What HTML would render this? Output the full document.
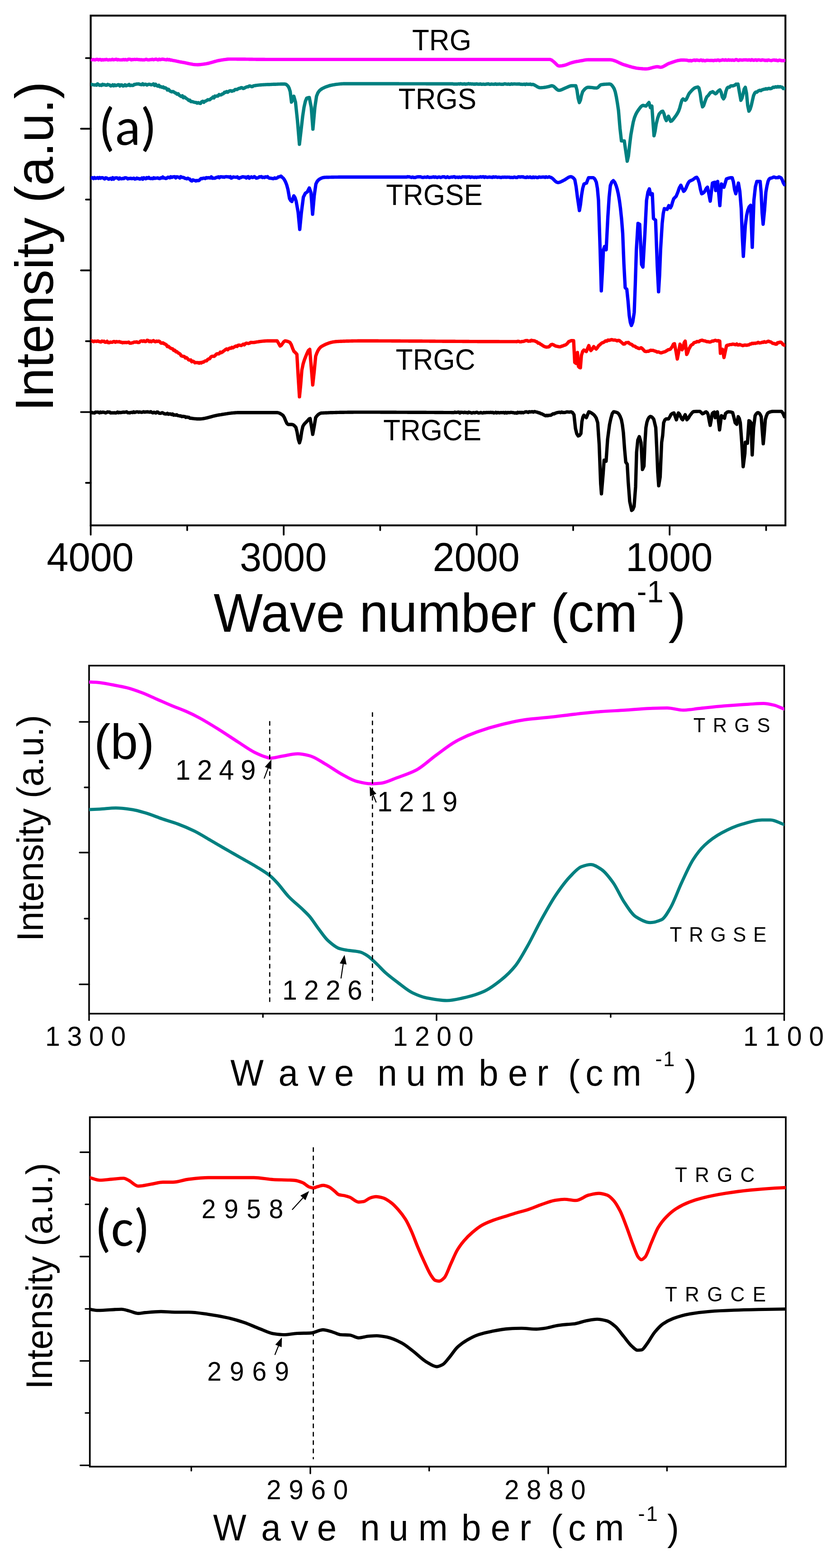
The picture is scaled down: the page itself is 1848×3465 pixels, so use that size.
<!DOCTYPE html><html><head><meta charset="utf-8"><title>FTIR spectra</title><style>html,body{margin:0;padding:0;background:#fff;}body{width:1848px;height:3465px;overflow:hidden;}svg{display:block;}</style></head><body>
<svg width="1848" height="3465" viewBox="0 0 1848 3465">
<rect x="0" y="0" width="1848" height="3465" fill="#fff"/>
<defs><clipPath id="ca"><rect x="200.5" y="34.5" width="1535.7" height="1126.5"/></clipPath><clipPath id="cb"><rect x="196.9" y="1470.9" width="1536.6" height="769.1"/></clipPath><clipPath id="cc"><rect x="198.6" y="2468.8" width="1538.4" height="772.2"/></clipPath></defs>
<rect x="200.5" y="34.5" width="1535.7" height="1126.5" fill="none" stroke="#000" stroke-width="4.2"/>
<g clip-path="url(#ca)">
<path d="M200 132 L202.2 131.5 L204.4 132.1 L206.6 131.7 L208.8 132.2 L211 132.2 L213.2 131.2 L215.4 131.1 L217.6 132.5 L219.8 131.5 L222 131.4 L224.2 132.8 L226.4 131.8 L228.6 132.5 L230.8 131.8 L233 132.1 L235.2 131.2 L237.4 132.1 L239.6 132.5 L241.9 131.9 L244.1 132.2 L246.3 132.1 L248.5 131 L250.7 132.2 L252.9 131.9 L255.1 131.4 L257.3 130.9 L259.5 132.4 L261.7 131.7 L263.9 132.1 L266.1 132.4 L268.3 132.1 L270.5 132.4 L272.7 131.5 L274.9 132.2 L277.1 131.5 L279.3 132.4 L281.5 132.3 L283.7 130.9 L285.9 130.9 L288.1 131.1 L290.3 132.4 L292.5 131.5 L294.7 131.8 L296.9 131.2 L299.1 131.6 L301.3 131.3 L303.5 131.3 L305.7 131.7 L307.9 131.7 L310.1 132.2 L312.3 131.8 L314.5 132.3 L316.7 132.1 L318.9 132.4 L321.1 131.8 L323.4 130.9 L325.6 132.1 L327.8 132.3 L330 132.2 L332.2 131.6 L334.4 131.8 L336.6 130.9 L338.8 132 L341 131.6 L343.2 131 L345.4 130.6 L347.6 132 L349.8 132.3 L352 130.7 L354.2 131.9 L356.4 131.2 L358.6 130.8 L360.8 131 L363 131.4 L365.3 131.9 L367.6 132.2 L369.8 130.9 L372.1 132.2 L374.4 131.4 L376.7 133 L378.9 132.6 L381.2 133.4 L383.5 133.8 L385.8 134.2 L388.1 134.7 L390.3 135.2 L392.6 135.6 L394.9 136.1 L397.2 136.6 L399.4 137 L401.7 137.4 L404 137.8 L406.3 138.2 L408.6 138.6 L410.9 139.1 L413.1 139.6 L415.4 140.1 L417.7 140.6 L420 141 L422.3 141.5 L424.6 141.9 L426.9 142.3 L429.1 142.6 L431.4 142.8 L433.7 142.9 L436 143 L438.2 143 L440.4 142.8 L442.7 142.7 L444.9 142.4 L447.1 142.1 L449.3 141.8 L451.6 141.5 L453.8 141.1 L456 140.8 L458.2 140.4 L460.5 140 L462.7 139.4 L464.9 138.8 L467.2 138.2 L469.4 137.5 L471.6 136.9 L473.8 136.2 L476.1 135.6 L478.3 135 L480.5 134.4 L482.8 133.9 L485 133.5 L487.4 133.1 L489.7 132.7 L492.1 132.3 L494.4 131.9 L496.8 131.6 L499.2 131.3 L501.5 131 L503.9 130.8 L506.2 130.6 L508.6 130.6 L510.8 130.6 L513.1 130.6 L515.3 130.6 L517.5 130.6 L519.7 130.6 L522 130.6 L524.2 130.7 L526.4 130.7 L528.7 130.7 L530.9 130.7 L533.1 130.7 L535.4 130.8 L537.6 130.8 L539.8 130.8 L542 130.8 L544.3 130.9 L546.5 130.9 L548.7 130.9 L551 131 L553.2 131 L555.4 131 L557.6 131 L559.9 131.1 L562.1 131.1 L564.3 131.1 L566.6 131.2 L568.8 131.2 L571 131.2 L573.2 131.2 L575.5 131.3 L577.7 131.3 L579.9 131.3 L582.2 131.3 L584.4 131.3 L586.6 131.4 L588.9 131.4 L591.1 131.4 L593.3 131.4 L595.5 131.4 L597.8 131.4 L600 131.4 L602.2 131.4 L604.4 131.4 L606.7 131.4 L608.9 131.4 L611.1 131.4 L613.3 131.4 L615.6 131.4 L617.8 131.4 L620 131.4 L622.2 131.4 L624.4 131.4 L626.7 131.4 L628.9 131.4 L631.1 131.4 L633.3 131.4 L635.6 131.4 L637.8 131.4 L640 131.4 L642.2 131.4 L644.4 131.4 L646.7 131.4 L648.9 131.4 L651.1 131.4 L653.3 131.4 L655.6 131.4 L657.8 131.4 L660 131.4 L662.2 131.4 L664.4 131.4 L666.7 131.4 L668.9 131.4 L671.1 131.4 L673.3 131.4 L675.6 131.4 L677.8 131.4 L680 131.4 L682.2 131.4 L684.4 131.4 L686.7 131.4 L688.9 131.4 L691.1 131.4 L693.3 131.4 L695.6 131.4 L697.8 131.4 L700 131.4 L702.2 131.4 L704.4 131.4 L706.7 131.4 L708.9 131.4 L711.1 131.4 L713.3 131.4 L715.6 131.4 L717.8 131.4 L720 131.4 L722.2 131.4 L724.4 131.4 L726.7 131.4 L728.9 131.4 L731.1 131.4 L733.3 131.4 L735.6 131.4 L737.8 131.4 L740 131.4 L742.2 131.4 L744.4 131.4 L746.6 131.4 L748.8 131.4 L751 131.4 L753.2 131.4 L755.4 131.4 L757.6 131.4 L759.8 131.4 L762 131.4 L764.2 131.4 L766.4 131.4 L768.6 131.4 L770.9 131.4 L773.1 131.4 L775.3 131.4 L777.5 131.4 L779.7 131.4 L781.9 131.4 L784.1 131.4 L786.3 131.4 L788.5 131.4 L790.7 131.4 L792.9 131.4 L795.1 131.4 L797.3 131.4 L799.5 131.4 L801.7 131.4 L803.9 131.4 L806.1 131.4 L808.3 131.4 L810.5 131.4 L812.7 131.4 L814.9 131.4 L817.1 131.4 L819.3 131.4 L821.5 131.4 L823.7 131.4 L825.9 131.4 L828.1 131.4 L830.4 131.4 L832.6 131.4 L834.8 131.4 L837 131.4 L839.2 131.4 L841.4 131.4 L843.6 131.4 L845.8 131.4 L848 131.4 L850.2 131.4 L852.4 131.4 L854.6 131.4 L856.8 131.4 L859 131.4 L861.2 131.4 L863.4 131.4 L865.6 131.4 L867.8 131.4 L870 131.4 L872.2 131.4 L874.4 131.4 L876.6 131.4 L878.8 131.4 L881 131.4 L883.2 131.4 L885.4 131.4 L887.6 131.4 L889.9 131.4 L892.1 131.4 L894.3 131.4 L896.5 131.4 L898.7 131.4 L900.9 131.4 L903.1 131.4 L905.3 131.4 L907.5 131.4 L909.7 131.4 L911.9 131.4 L914.1 131.4 L916.3 131.4 L918.5 131.4 L920.7 131.4 L922.9 131.4 L925.1 131.4 L927.3 131.4 L929.5 131.4 L931.7 131.4 L933.9 131.4 L936.1 131.4 L938.3 131.4 L940.5 131.4 L942.7 131.4 L944.9 131.4 L947.1 131.4 L949.4 131.4 L951.6 131.4 L953.8 131.4 L956 131.4 L958.2 131.4 L960.4 131.4 L962.6 131.4 L964.8 131.4 L967 131.4 L969.2 131.4 L971.4 131.4 L973.6 131.4 L975.8 131.4 L978 131.4 L980.2 131.4 L982.4 131.4 L984.6 131.4 L986.8 131.4 L989 131.4 L991.2 131.4 L993.4 131.4 L995.6 131.4 L997.8 131.4 L1000 131.4 L1002.2 131.4 L1004.4 131.4 L1006.6 131.4 L1008.9 131.4 L1011.1 131.4 L1013.3 131.4 L1015.5 131.4 L1017.7 131.4 L1019.9 131.4 L1022.1 131.4 L1024.3 131.4 L1026.5 131.4 L1028.7 131.4 L1030.9 131.4 L1033.1 131.4 L1035.3 131.4 L1037.5 131.4 L1039.7 131.4 L1041.9 131.4 L1044.1 131.4 L1046.3 131.4 L1048.5 131.4 L1050.7 131.4 L1052.9 131.4 L1055.1 131.4 L1057.3 131.4 L1059.5 131.4 L1061.7 131.4 L1063.9 131.4 L1066.1 131.4 L1068.4 131.4 L1070.6 131.4 L1072.8 131.4 L1075 131.4 L1077.2 131.4 L1079.4 131.4 L1081.6 131.4 L1083.8 131.4 L1086 131.4 L1088.2 131.4 L1090.4 131.4 L1092.6 131.4 L1094.8 131.4 L1097 131.4 L1099.2 131.4 L1101.4 131.4 L1103.6 131.4 L1105.8 131.4 L1108 131.4 L1110.2 131.4 L1112.4 131.4 L1114.6 131.4 L1116.8 131.4 L1119 131.4 L1121.2 131.4 L1123.4 131.4 L1125.6 131.4 L1127.9 131.4 L1130.1 131.4 L1132.3 131.4 L1134.5 131.4 L1136.7 131.4 L1138.9 131.4 L1141.1 131.4 L1143.3 131.4 L1145.5 131.4 L1147.7 131.4 L1149.9 131.4 L1152.1 131.4 L1154.3 131.4 L1156.5 131.4 L1158.7 131.4 L1160.9 131.4 L1163.1 131.4 L1165.3 131.4 L1167.5 131.4 L1169.7 131.4 L1171.9 131.4 L1174.1 131.4 L1176.3 131.4 L1178.5 131.4 L1180.7 131.4 L1182.9 131.4 L1185.1 131.4 L1187.4 131.4 L1189.6 131.4 L1191.8 131.4 L1194 131.4 L1196.2 131.4 L1198.4 131.4 L1200.6 131.4 L1202.8 131.4 L1205 131.4 L1207.2 131.4 L1209.4 131.4 L1211.6 131.4 L1213.8 131.4 L1216 131.4 L1218.9 132.4 L1221.8 134.6 L1224.7 137 L1227.4 139.5 L1230.2 142.4 L1232.9 144.9 L1235.6 145.9 L1237.8 145.8 L1240 145.6 L1242.2 145.3 L1244.4 144.9 L1246.6 144.5 L1249.1 143.9 L1251.6 143.1 L1254.1 142.1 L1256.5 141.1 L1259 140.1 L1261.5 139.2 L1264 138.4 L1266.4 137.8 L1268.8 137.2 L1271.3 136.7 L1273.7 136.2 L1276.1 135.7 L1278.5 135.3 L1281 134.8 L1283.4 134.4 L1285.8 134 L1288.2 133.6 L1290.5 133.1 L1292.9 132.7 L1295.3 132.3 L1297.6 132.1 L1300 132 L1302.3 132 L1304.6 132 L1306.9 132 L1309.1 132 L1311.4 132 L1313.7 132 L1316 132 L1318.3 132 L1320.6 132 L1322.9 132 L1325.1 132 L1327.4 132 L1329.7 132 L1332 132 L1334.3 132 L1336.6 132 L1338.9 132 L1341.1 132 L1343.4 132 L1345.7 132 L1348 132 L1350.3 132.1 L1352.6 132.5 L1354.9 133 L1357.1 133.7 L1359.4 134.5 L1361.7 135.4 L1364 136.4 L1366.3 137.5 L1368.6 138.6 L1370.9 139.6 L1373.1 140.6 L1375.4 141.6 L1377.7 142.5 L1380 143.2 L1382.3 143.9 L1384.6 144.6 L1386.9 145.3 L1389.1 146 L1391.4 146.7 L1393.7 147.3 L1396 148 L1398.3 148.6 L1400.6 149.2 L1402.9 149.7 L1405.1 150.2 L1407.4 150.6 L1409.7 150.9 L1412 151.2 L1414.3 151.4 L1416.6 151.6 L1418.9 151.8 L1421.1 152 L1423.4 152.1 L1425.7 152.2 L1428 152.2 L1430.3 152.1 L1432.7 151.8 L1435 151.3 L1437.3 150.8 L1439.7 150.1 L1442 149.5 L1444.4 148.8 L1446.7 148.3 L1449 147.8 L1451.4 147.5 L1453.7 147.4 L1456.8 148 L1460 148.7 L1462.4 148.4 L1464.8 147.6 L1467.2 146.5 L1469.7 145.1 L1472.1 143.7 L1474.5 142.3 L1476.9 141 L1479.3 140 L1481.5 139.3 L1483.7 138.5 L1485.9 137.7 L1488.1 136.9 L1490.3 136.2 L1492.5 135.5 L1494.8 134.8 L1497 134.2 L1499.2 133.7 L1501.4 133.3 L1503.6 133 L1505.8 132.8 L1508 132.7 L1510.3 132.7 L1512.5 132.8 L1514.8 132.9 L1517 133 L1519.3 133.1 L1521.6 134 L1523.8 134.4 L1526.1 133.5 L1528.3 134.6 L1530.6 133.6 L1532.8 133.2 L1535 132.7 L1537.3 133.8 L1539.5 132.6 L1541.7 133 L1543.9 133.4 L1546.2 133.8 L1548.4 132.8 L1550.6 132.6 L1552.8 134.2 L1555 133.1 L1557.3 134.4 L1559.5 134.2 L1561.7 133.2 L1563.9 133.3 L1566.2 133.4 L1568.4 133.6 L1570.6 133.5 L1572.8 133.4 L1575 133.5 L1577.3 134.1 L1579.5 133.2 L1581.7 133.1 L1583.9 133.6 L1586.2 132.6 L1588.4 132.7 L1590.6 134 L1592.8 133.1 L1595.1 133.1 L1597.3 132 L1599.5 132.8 L1601.7 133.1 L1603.9 132 L1606.2 133.1 L1608.4 133.1 L1610.6 132 L1612.8 133.1 L1615.1 132.7 L1617.3 133.2 L1619.5 132.5 L1621.7 133.2 L1623.9 133.2 L1626.2 131.8 L1628.4 131.8 L1630.6 133.1 L1632.8 133.6 L1635.1 132.2 L1637.3 132.6 L1639.5 132.7 L1641.8 132.9 L1644 132.3 L1646.2 132.4 L1648.5 132.3 L1650.8 132.5 L1653 132.9 L1655.2 132.3 L1657.5 132.5 L1659.8 133.3 L1662 131.8 L1664.2 132.9 L1666.5 133.3 L1668.8 132.5 L1671 132.3 L1673.2 133.5 L1675.5 132.4 L1677.8 132.3 L1680 132.8 L1682.2 133.4 L1684.5 132.2 L1686.8 132.7 L1689 132.7 L1691.2 133.8 L1693.5 133 L1695.8 133.9 L1698 132.5 L1700.2 132.9 L1702.5 133.5 L1704.8 134 L1707 133.2 L1709.2 132.8 L1711.5 132.6 L1713.8 133.4 L1716 132.8 L1718.2 134 L1720.5 134.1 L1722.8 132.8 L1725 133.1 L1727.2 134.1 L1729.5 133.8 L1731.8 134.2 L1734 133.6" fill="none" stroke="#FF00FF" stroke-width="7.4" stroke-linejoin="round" stroke-linecap="round"/>
<path d="M200 186 L202.2 186.5 L204.5 187.1 L206.7 187.4 L208.9 188 L211.2 187.4 L213.4 188.2 L215.6 185.3 L217.8 186.9 L220.1 188.7 L222.3 187.8 L224.5 188.8 L226.8 186.3 L229 187.6 L231.2 187 L233.5 188.2 L235.7 188.4 L237.9 186.6 L240.2 187.4 L242.4 187.7 L244.6 190 L246.8 189.5 L249.1 187.5 L251.3 189.7 L253.5 187.5 L255.8 189.2 L258 188.8 L260.3 187.5 L262.6 187.1 L264.9 190 L267.1 187.7 L269.4 187.6 L271.7 190.1 L274 189.6 L276.3 187.5 L278.6 189.7 L280.9 188.1 L283.2 188.5 L285.4 186.7 L287.7 189.1 L290 188.1 L292.3 188.9 L294.6 188.6 L296.9 186.5 L299.2 186.6 L301.5 185.8 L303.7 185.7 L306 185.4 L308.3 186.1 L310.6 186.8 L313 187.2 L315.4 185.1 L317.7 187.4 L320.1 186.2 L322.5 186.2 L324.9 187.9 L327.3 186.7 L329.7 186.2 L332 186.7 L334.4 187.5 L336.8 186.8 L339.2 185.4 L341.6 188.8 L343.9 186.1 L346.3 189.2 L348.7 190.3 L351.1 188.3 L353.5 191.9 L355.9 191.4 L358.2 193.1 L360.6 192.1 L363 194.6 L365.4 193.9 L367.7 195.3 L370.1 198.9 L372.5 197.3 L374.8 200.3 L377.2 201.9 L379.5 203 L381.9 202.1 L384.3 203.3 L386.6 205 L389 206 L391.4 208.1 L393.7 207 L396.1 210.4 L398.4 211.8 L400.8 213.2 L403.1 211.7 L405.4 216 L407.8 214.3 L410.1 216.3 L412.5 218 L414.8 219.5 L417.2 221.9 L419.5 221.2 L421.8 224.5 L424.1 224.5 L426.5 224.9 L428.8 225.9 L431.1 226.2 L433.5 226.4 L435.8 228 L438.3 226.7 L440.7 228.1 L443.2 228.6 L445.6 225 L448.1 223.8 L450.5 226.2 L453 223.7 L455.2 223.1 L457.4 221.8 L459.6 220.3 L461.8 220.6 L464 220.3 L466.2 218 L468.5 216.8 L470.7 214.5 L472.9 216.4 L475.1 212.3 L477.3 212.9 L479.5 212 L481.9 212.2 L484.3 208.8 L486.6 209.8 L489 209.6 L491.4 207.6 L493.8 207.1 L496.2 203.9 L498.6 204.2 L500.9 202.3 L503.3 203.9 L505.7 202 L508 200.6 L510.3 200.5 L512.5 201.7 L514.8 200.6 L517.1 200.4 L519.4 198 L521.7 197.6 L523.9 197.8 L526.2 196.4 L528.5 195.2 L530.8 195.1 L533 193.7 L535.3 194 L537.6 195.6 L539.9 195 L542.2 193.4 L544.4 192.5 L546.7 191.6 L549 191.7 L551.2 189.9 L553.5 190.1 L555.7 191.5 L557.9 191.4 L560.2 189.7 L562.4 189.4 L564.6 189 L566.8 188.7 L569.1 188.4 L571.3 188.1 L573.5 187.9 L575.8 187.7 L578 187.5 L580.2 187.4 L582.4 187.2 L584.6 187.1 L586.8 187 L589 186.9 L591.2 186.8 L593.4 186.7 L595.6 186.7 L597.8 186.6 L600 186.5 L602.3 186.4 L604.6 186.3 L606.9 186.3 L609.2 186.2 L611.5 186.1 L613.8 186 L616.1 185.9 L618.4 185.9 L620.7 185.8 L623 185.8 L625.3 185.7 L627.6 185.7 L629.9 185.7 L632.3 186.4 L634.6 188.2 L637 190.8 L639.2 195 L641.5 202.4 L644.4 225.7 L647 219.1 L649.5 212.6 L653.2 225.7 L657.5 266.4 L661.9 318.9 L666.3 281 L669.1 256.7 L672 237.3 L675 224 L677.9 217 L680.8 215.9 L683.7 215.5 L688 237.3 L691.7 285.4 L696 237.3 L699.7 212.6 L702.7 205.2 L705.6 201 L708 198.8 L710.4 197 L712.8 195.5 L715.2 194.3 L717.6 193.2 L720 192.2 L722.5 191.2 L724.9 190.4 L727.4 189.6 L729.8 188.9 L732.2 188.3 L734.7 187.8 L737 187.4 L739.2 187.1 L741.5 186.7 L743.7 186.4 L746 186.1 L748.2 185.9 L750.5 185.6 L752.8 185.4 L755 185.2 L757.3 185.1 L759.5 185 L761.8 185 L764 185 L766.2 185 L768.4 185 L770.6 185 L772.8 185 L775 185 L777.2 185 L779.5 185 L781.7 185 L783.9 185 L786.1 185 L788.3 185 L790.5 185 L792.7 185 L794.9 185 L797.1 185 L799.3 185 L801.5 185 L803.7 185 L805.9 185 L808.1 185 L810.4 185 L812.6 185 L814.8 185 L817 185 L819.2 185 L821.4 185 L823.6 185 L825.8 185 L828 185 L830.2 185 L832.4 185 L834.6 185 L836.8 185 L839 185 L841.2 185 L843.5 185 L845.7 185 L847.9 185 L850.1 185 L852.3 185 L854.5 185 L856.7 185 L858.9 185 L861.1 185 L863.3 185 L865.5 185 L867.7 185 L869.9 185 L872.1 185 L874.4 185 L876.6 185 L878.8 185 L881 185 L883.2 185.1 L885.4 185.1 L887.6 185.1 L889.8 185.1 L892 185.1 L894.2 185.1 L896.4 185.1 L898.6 185.1 L900.8 185.1 L903 185.1 L905.2 185.1 L907.5 185.1 L909.7 185.1 L911.9 185.1 L914.1 185.1 L916.3 185.1 L918.5 185.1 L920.7 185.1 L922.9 185.1 L925.1 185.1 L927.3 185.1 L929.5 185.1 L931.7 185.1 L933.9 185.1 L936.1 185.1 L938.4 185.1 L940.6 185.1 L942.8 185.2 L945 185.2 L947.2 185.2 L949.4 185.2 L951.6 185.2 L953.8 185.2 L956 185.2 L958.2 185.2 L960.4 185.2 L962.6 185.2 L964.8 185.2 L967 185.2 L969.2 185.2 L971.5 185.2 L973.7 185.2 L975.9 185.2 L978.1 185.2 L980.3 185.3 L982.5 185.3 L984.7 185.3 L986.9 185.3 L989.1 185.3 L991.3 185.3 L993.5 185.3 L995.7 185.3 L997.9 185.3 L1000.1 185.1 L1002.4 185.8 L1004.6 185.8 L1006.8 185.7 L1009 185.6 L1011.2 185.8 L1013.4 185.2 L1015.6 185.7 L1017.8 185 L1020 185.4 L1022.2 185.8 L1024.4 185.7 L1026.6 185.1 L1028.8 186.1 L1031 185.7 L1033.3 185.6 L1035.5 184.7 L1037.7 185.6 L1039.9 185.1 L1042.1 185.8 L1044.3 185.4 L1046.5 186 L1048.7 185.8 L1050.9 186 L1053.1 185.3 L1055.3 185.8 L1057.5 186 L1059.7 186.1 L1061.9 185.4 L1064.1 186.2 L1066.4 186.2 L1068.6 185.9 L1070.8 186.4 L1073 186.4 L1075.2 185.7 L1077.4 185.7 L1079.6 185.2 L1081.8 186.3 L1084 186.4 L1086.2 185.7 L1088.4 186.1 L1090.6 186.1 L1092.8 186.2 L1095 185.3 L1097.3 186.3 L1099.5 186 L1101.7 186.1 L1103.9 185.7 L1106.1 186.1 L1108.3 186.3 L1110.5 186.1 L1112.7 186.3 L1114.9 185.2 L1117.1 185.4 L1119.3 185.9 L1121.5 186.2 L1123.7 185.6 L1125.9 186.3 L1128.1 186.3 L1130.4 185.3 L1132.6 186 L1134.8 185.7 L1137 185.4 L1139.2 185.6 L1141.4 185.9 L1143.6 185.7 L1145.8 185.7 L1148 185.5 L1150.2 186.2 L1152.4 186.1 L1154.6 186.5 L1156.8 186.4 L1159 185.9 L1161.3 187 L1163.5 185.6 L1165.7 186.2 L1167.9 186.1 L1170.1 186.3 L1172.3 185.8 L1174.5 187 L1176.7 186.5 L1179.2 186.7 L1181.6 188 L1184.1 189.4 L1186.6 191 L1189.1 192.4 L1191.5 193.5 L1194 193.9 L1196.5 193.8 L1199 193.6 L1201.5 193.4 L1204.1 193 L1206.6 192.6 L1209.1 192.1 L1211.6 191.7 L1214.5 190.9 L1217.4 190 L1220.3 189.5 L1222.8 190.2 L1225.4 192.1 L1227.9 194.5 L1230.5 197 L1233 198.9 L1235.6 199.6 L1237.8 199.4 L1240 198.8 L1242.2 197.9 L1244.4 196.9 L1246.6 195.8 L1248.8 194.8 L1251 193.9 L1253.6 192.9 L1256.2 191.7 L1258.8 190.6 L1261.4 189.8 L1264 189.5 L1266.9 189.5 L1269.9 189.5 L1272.8 189.5 L1275.4 199.1 L1278 217 L1280.6 226.6 L1283.1 221.1 L1285.5 210.3 L1288 202.6 L1290.4 199.5 L1292.8 196.8 L1295.2 194.7 L1297.6 193.4 L1300 192.9 L1302.4 193 L1304.8 193.2 L1307.2 193.4 L1309.6 193.7 L1312 194 L1314.4 194.2 L1316.8 194.4 L1319.2 194.5 L1321.6 193.4 L1324 191 L1326.4 188.4 L1328.8 187.1 L1331.2 186.8 L1333.6 186.5 L1336 186.3 L1338.4 186.1 L1340.8 186 L1343.2 185.9 L1345.6 185.8 L1348 185.8 L1350.4 186.6 L1352.8 188.8 L1355.2 192 L1357.6 196 L1360 202.8 L1362.4 213.9 L1364.8 228 L1367.2 244.1 L1370.5 283.4 L1373.7 311.4 L1376.8 311.4 L1380 311.4 L1383.2 333.8 L1386.5 356.2 L1389.2 344.7 L1391.8 320.3 L1394.5 298.5 L1397.2 283.3 L1399.8 269.9 L1402.5 260 L1405.2 253.3 L1407.8 248.2 L1410.5 244.1 L1412.7 241 L1415 238 L1417.2 235.4 L1419.5 233.6 L1421.7 232.9 L1424.8 233.7 L1428 234.5 L1431.2 230.5 L1434.5 226.5 L1437.7 237.7 L1441 234.5 L1443.3 267.3 L1445.7 300.1 L1448.1 289.8 L1450.5 274.5 L1453.8 260.9 L1457 252.1 L1459.7 248.9 L1462.3 246.6 L1465 245.7 L1467.7 251.1 L1470.3 261.1 L1473 266.5 L1475.3 261.7 L1477.7 256.9 L1480.1 262.5 L1482.5 268.1 L1484.9 267.2 L1487.2 264.8 L1489.6 261.7 L1492 258.5 L1494.7 254.9 L1497.3 250.7 L1500 245.7 L1502.5 238.7 L1504.9 229.6 L1507.3 221.8 L1509.8 218.5 L1512.2 220.1 L1514.6 221.7 L1516.9 219.7 L1519.3 215 L1521.7 209.7 L1524 205.7 L1526.3 203.1 L1528.6 200.5 L1530.9 198.1 L1533.3 196 L1535.6 194.4 L1537.9 193.3 L1540.2 192.9 L1542.6 192.2 L1545 194.5 L1547.7 206.2 L1550.3 224.7 L1553 236.1 L1555.4 233.3 L1557.8 226.1 L1560.2 219.2 L1562.6 213.7 L1565.2 211.5 L1567.7 208.1 L1570.3 204.6 L1572.8 203.9 L1575.4 202.5 L1578.6 205.2 L1581.8 207.3 L1584.2 205.6 L1586.6 202.1 L1589 200.2 L1591.4 198.6 L1594.1 203.9 L1596.7 214.4 L1599.4 218.5 L1602.1 213.8 L1604.7 201.8 L1607.4 194.5 L1610 192.6 L1612.5 192.9 L1615.1 190 L1617.6 189.6 L1620.2 189.7 L1622.4 188.9 L1624.7 188 L1626.9 185.9 L1629.2 186.4 L1631.4 185.8 L1634.6 204.7 L1637.8 221.7 L1640.2 216.9 L1642.7 207.1 L1645.1 196.7 L1647.5 192.9 L1650.2 206.1 L1652.8 233.1 L1655.5 245.7 L1658.1 241.6 L1660.6 233.7 L1663.2 222.2 L1665.7 211.4 L1668.3 205.7 L1670.6 203.5 L1672.9 203.8 L1675.2 201.6 L1677.4 200.4 L1679.7 199.4 L1682 200.4 L1684.3 198.6 L1686.5 198 L1688.8 197.1 L1691 197.1 L1693.3 195.9 L1695.5 196.7 L1697.7 195.9 L1700 195.2 L1702.2 196 L1704.5 195.7 L1706.7 194.5 L1709.3 192.6 L1711.8 193.1 L1714.4 191.6 L1716.9 192.6 L1719.5 191.3 L1721.9 192.2 L1724.3 191.4 L1726.8 192.3 L1729.2 192.9 L1731.6 195.8 L1734 195.4" fill="none" stroke="#008080" stroke-width="7.4" stroke-linejoin="round" stroke-linecap="round"/>
<path d="M200 394 L202.2 393.3 L204.5 392.7 L206.7 394.6 L208.9 392.4 L211.2 394.2 L213.4 393.6 L215.6 392.4 L217.8 394.2 L220.1 392.4 L222.3 393.9 L224.5 392.6 L226.8 392.7 L229 394 L231.2 395.5 L233.5 392.9 L235.7 393.3 L237.9 394.8 L240.2 396 L242.4 394.7 L244.6 394 L246.8 396.2 L249.1 392.7 L251.3 395.8 L253.5 393.7 L255.8 393.1 L258 393 L260.2 393.8 L262.5 395.7 L264.7 393.3 L266.9 394.9 L269.2 395.1 L271.4 394.1 L273.6 394.8 L275.8 392.9 L278.1 392.9 L280.3 393.5 L282.5 395.3 L284.8 394.3 L287 394.6 L289.2 393.9 L291.4 394.9 L293.6 394.4 L295.8 393.8 L298 395.7 L300.2 395.3 L302.5 393.5 L304.7 394.7 L306.9 394.5 L309.1 395.8 L311.3 395.2 L313.5 393.5 L315.7 396 L317.9 392.7 L320.1 393.8 L322.3 395 L324.5 392.6 L326.7 393.9 L328.9 392.1 L331.2 394.4 L333.4 394.7 L335.6 393.9 L337.8 395 L340 392.8 L342.2 394.2 L344.4 393.7 L346.6 393.6 L348.8 393 L351 394.4 L353.2 394.7 L355.4 392.9 L357.6 393.5 L359.8 391.2 L362.1 393.5 L364.3 393.3 L366.5 394.5 L368.7 393.8 L370.9 391.7 L373.1 392 L375.3 393 L377.5 390.5 L379.7 392.1 L381.9 391 L384.1 390.7 L386.3 390.5 L388.5 393.1 L390.8 390.7 L393 391.1 L395.2 391.6 L397.4 393.4 L399.6 390.4 L401.8 391.8 L404 392 L406.2 392.3 L408.5 394 L410.7 394.3 L412.9 395.2 L415.2 393.8 L417.4 395.2 L419.6 395.9 L421.8 398.8 L424.1 399.9 L426.3 397.6 L428.5 398.3 L430.8 398.8 L433 400 L435.3 398.8 L437.6 399.2 L439.9 398.8 L442.2 396.5 L444.5 394.5 L446.8 394.9 L449.1 393.7 L451.4 393.7 L453.7 394.6 L456 392.6 L458.2 393.3 L460.4 392.6 L462.6 393 L464.9 393.2 L467.1 390.8 L469.3 394 L471.5 393.5 L473.7 393.8 L475.9 393.5 L478.1 392 L480.3 392 L482.6 390.8 L484.8 392.8 L487 390.7 L489.2 390.7 L491.4 391.2 L493.6 391 L495.8 391.7 L498 390.6 L500.3 390.4 L502.5 390.9 L504.7 390.7 L506.9 391.7 L509.1 390.4 L511.3 393.7 L513.5 392.7 L515.7 390.9 L518 391.3 L520.2 391.6 L522.4 391.7 L524.6 390.8 L526.8 393.5 L529 394.1 L531.2 392.1 L533.4 392.1 L535.7 390.6 L537.9 390.6 L540.1 391.6 L542.3 391.2 L544.5 393.4 L546.7 390.8 L548.9 390.3 L551.1 393.8 L553.4 392.2 L555.6 390.7 L557.8 392.2 L560 392 L562.2 390.2 L564.5 392 L566.7 393.7 L568.9 393.2 L571.2 392.5 L573.4 390.7 L575.6 391.1 L577.8 390.2 L580.1 392.5 L582.3 391.5 L584.5 392.4 L586.8 390.7 L589 391.3 L591.3 390.3 L593.6 392.8 L595.8 393.9 L598.1 393.8 L600.4 394.2 L602.7 394.7 L604.9 394.7 L607.2 393.1 L609.5 394.2 L612.4 393.3 L615.3 391 L618.2 390.6 L621.1 389.2 L624 392 L626.4 394 L628.9 397.6 L631.3 402.2 L633.8 408.8 L636.4 418.2 L640 438.6 L642.6 443.3 L645.2 445.2 L649.5 432.8 L652 436.5 L654.6 444.4 L659 469.2 L662.6 507 L666.3 469.2 L670.6 435.7 L675 427 L679.4 424 L683.7 415.3 L687.4 425.5 L691 473.5 L694.6 432.8 L698.3 406.6 L700.7 401.6 L703.2 398.4 L705.6 396.4 L707.9 395 L710.2 393.9 L712.6 392.9 L714.9 392.3 L717.2 392 L719.5 391.9 L721.7 391.8 L724 391.8 L726.2 391.7 L728.5 391.6 L730.7 391.6 L733 391.5 L735.2 391.5 L737.5 391.5 L739.7 391.4 L742 391.4 L744.2 391.4 L746.5 391.4 L748.7 391.3 L751 391.3 L753.2 391.3 L755.5 391.3 L757.7 391.3 L760 391.3 L762.2 391.3 L764.4 391.3 L766.6 391.3 L768.8 391.3 L771 391.3 L773.2 391.3 L775.4 391.3 L777.6 391.3 L779.8 391.3 L782 391.3 L784.2 391.3 L786.4 391.3 L788.6 391.3 L790.8 391.3 L793 391.3 L795.2 391.3 L797.4 391.3 L799.7 391.3 L801.9 391.3 L804.1 391.3 L806.3 391.3 L808.5 391.3 L810.7 391.3 L812.9 391.3 L815.1 391.3 L817.3 391.3 L819.5 391.3 L821.7 391.3 L823.9 391.3 L826.1 391.3 L828.3 391.3 L830.5 391.3 L832.7 391.3 L834.9 391.3 L837.1 391.3 L839.3 391.3 L841.5 391.3 L843.7 391.3 L845.9 391.3 L848.1 391.3 L850.3 391.3 L852.5 391.3 L854.7 391.3 L856.9 391.3 L859.1 391.3 L861.3 391.3 L863.5 391.3 L865.7 391.3 L867.9 391.3 L870.1 391.3 L872.3 391.3 L874.6 391.3 L876.8 391.3 L879 391.3 L881.2 391.3 L883.4 391.3 L885.6 391.3 L887.8 391.3 L890 391.3 L892.2 391.3 L894.4 391.3 L896.6 391.3 L898.8 391.3 L901 390.4 L903.2 390.9 L905.4 390.8 L907.6 391.7 L909.8 392.2 L912 391.2 L914.2 392.2 L916.4 392.3 L918.6 392.2 L920.8 391.1 L923 390.8 L925.2 390.8 L927.4 390.7 L929.6 390.7 L931.8 391.6 L934 392.1 L936.2 392 L938.4 391.3 L940.6 391.6 L942.8 391.9 L945 390.5 L947.2 391.7 L949.4 392.2 L951.7 391.9 L953.9 391.8 L956.1 391.3 L958.3 390.7 L960.5 391.9 L962.7 391 L964.9 391.9 L967.1 392.3 L969.3 391.1 L971.5 391.1 L973.7 392.2 L975.9 391.8 L978.1 390.7 L980.3 390.6 L982.5 390.7 L984.7 392.2 L986.9 392 L989.1 390.6 L991.3 392 L993.5 392.3 L995.7 391.7 L997.9 391.1 L1000.1 391.5 L1002.3 390.6 L1004.5 390.4 L1006.7 392.3 L1008.9 391.7 L1011.1 391.4 L1013.3 392.2 L1015.5 391.2 L1017.7 392.1 L1019.9 392 L1022.1 390.8 L1024.3 390.9 L1026.6 391 L1028.8 390.9 L1031 391.6 L1033.2 390.9 L1035.4 391.2 L1037.6 390.7 L1039.8 392.2 L1042 391.1 L1044.2 391.3 L1046.4 391.6 L1048.6 392.2 L1050.8 391.3 L1053 392.2 L1055.2 391.4 L1057.4 391.5 L1059.6 391.5 L1061.8 390.5 L1064 391.3 L1066.2 390.8 L1068.4 390.4 L1070.6 392 L1072.8 390.8 L1075 391.4 L1077.2 391.9 L1079.4 391.6 L1081.6 391.1 L1083.8 391.5 L1086 391.6 L1088.2 392 L1090.4 390.7 L1092.6 391.6 L1094.8 391 L1097 391 L1099.2 392 L1101.4 391.5 L1103.7 391.6 L1105.9 392 L1108.1 392.3 L1110.3 391.4 L1112.5 391.7 L1114.7 391.5 L1116.9 391.5 L1119.1 391.9 L1121.3 391.4 L1123.5 391.6 L1125.7 391.5 L1127.9 392.4 L1130.1 391.9 L1132.3 392.3 L1134.5 392.4 L1136.7 391.1 L1138.9 391.7 L1141.1 392.4 L1143.3 392.2 L1145.5 390.8 L1147.7 390.8 L1149.9 391.4 L1152.1 390.7 L1154.3 391 L1156.5 390.7 L1158.7 391.9 L1160.9 392.1 L1163.1 392.4 L1165.3 390.9 L1167.5 392 L1169.7 391.9 L1171.9 390.9 L1174.1 392.4 L1176.3 392.5 L1178.6 391.1 L1180.8 392.5 L1183 391.4 L1185.2 391.6 L1187.4 392.6 L1189.6 392.3 L1191.8 391 L1194 391.5 L1196.2 391.7 L1198.4 391.3 L1200.6 391.1 L1202.8 391.3 L1205 392.1 L1207.2 390.7 L1209.4 391.8 L1211.6 391.6 L1213.8 390.7 L1216 391.7 L1218.5 392.4 L1221 394 L1223.5 396.4 L1225.9 398.9 L1228.4 401.2 L1230.9 402.8 L1233.4 403.5 L1236 403.1 L1238.7 402.2 L1241.3 401 L1244 399.6 L1246.6 398.3 L1249.1 396.9 L1251.7 395.2 L1254.2 393.5 L1256.7 391.9 L1259.3 390.8 L1261.8 390.4 L1264.7 391.2 L1267.7 393.4 L1270.6 397 L1273.5 412.4 L1276.4 435.5 L1280.8 465.3 L1283.2 451.9 L1285.5 431.9 L1288.2 415.7 L1291 406.4 L1293.7 405.5 L1296.4 404.6 L1298.8 398.2 L1301.1 392.6 L1303.6 392.6 L1306 392.6 L1308.5 392.6 L1311 392.6 L1313.4 393.9 L1315.8 397.4 L1318.2 402.8 L1320.6 416.3 L1323 442.8 L1326.6 552 L1329.2 642.9 L1331.6 600.2 L1333.9 552 L1336.4 544.7 L1340 552 L1343.7 479.2 L1346.5 436 L1349.2 410 L1352.5 402.1 L1355.7 399.1 L1358.8 402.6 L1361.9 410 L1364.3 417.9 L1366.8 428.9 L1369.2 442.8 L1371.6 460.8 L1374.1 485 L1376.5 515.6 L1379.2 583.9 L1382 635.6 L1385.6 639.3 L1388.3 665.3 L1391 697.5 L1393.3 712.2 L1395.7 719.3 L1398.8 711.3 L1402 690.2 L1404.3 628.4 L1406.7 552 L1410.3 493.7 L1414 495.5 L1418.3 584.7 L1421.2 590.2 L1425.6 515.6 L1429.2 442.8 L1432.3 424.4 L1435.4 417.3 L1438.3 430 L1442 428.2 L1444.5 482.8 L1446.8 484.7 L1449.2 486.5 L1452.9 588.3 L1455.8 644.7 L1458 608.4 L1460.2 552 L1463.8 493.7 L1466.2 471.5 L1468.5 461 L1471.6 461.9 L1474.7 462.8 L1478.4 454.4 L1482 459.2 L1484.4 454.8 L1486.9 445.9 L1489.3 439.1 L1492 436.4 L1494.7 433.7 L1498.4 424.6 L1501.7 415 L1505 409.3 L1508 416.1 L1511.1 422.8 L1513.6 420.8 L1516.2 416 L1518.7 409.9 L1521.3 404.4 L1523.8 400.9 L1526.2 399.5 L1528.7 398.4 L1531.1 397.3 L1533.4 395.7 L1535.7 393.9 L1537.9 392.4 L1540.2 391.8 L1543 396.1 L1545.7 404.6 L1548.4 418.5 L1551.1 428.2 L1553.8 427 L1556.6 424.6 L1559 420.8 L1561.5 416 L1563.9 413.7 L1567 429.1 L1570 444.6 L1572.4 425 L1574.8 404.6 L1577.5 403.3 L1580.2 402.8 L1582 421 L1584.2 410.9 L1586.4 400.9 L1588.8 427.7 L1591.2 454.4 L1594.8 406.4 L1597.5 410 L1600.3 413.7 L1603 404.9 L1605.7 395.5 L1608.3 394.4 L1610.8 393.6 L1613.4 393 L1615.9 392.7 L1618.5 392.6 L1621.2 401.8 L1623.8 419 L1626.5 428.2 L1629.4 416.4 L1632.3 404.6 L1635.4 422.6 L1638.5 461 L1640.8 521.5 L1643.2 566.5 L1647.6 497.4 L1650.3 476.9 L1653 464.6 L1656.1 457 L1659.2 453.7 L1662.9 546.5 L1666.5 442.8 L1669.8 412.7 L1673 400.9 L1675.4 400.9 L1677.9 400.9 L1680.3 400.9 L1682.5 425.4 L1684.7 471 L1686.9 495.5 L1690 464.6 L1693 424.6 L1695.4 410.9 L1697.9 400.4 L1700.3 395.5 L1702.8 393.8 L1705.4 393.4 L1707.9 392.4 L1710.5 391.1 L1713 391.8 L1715.2 392.8 L1717.4 392.4 L1719.6 392.7 L1721.8 391 L1724 391.8 L1726.5 393.1 L1729 397 L1731.5 403.9 L1734 408.2" fill="none" stroke="#0000FF" stroke-width="7.4" stroke-linejoin="round" stroke-linecap="round"/>
<path d="M200 753.3 L202.3 753.3 L204.6 753.8 L206.9 755.1 L209.2 753.8 L211.5 754.1 L213.8 754.5 L216.1 753.4 L218.4 754.6 L220.7 755.1 L223 755.8 L225.3 753.7 L227.6 754.5 L229.9 754 L232.2 756.4 L234.5 756.2 L236.8 754.2 L239.1 757.3 L241.4 757.3 L243.7 755.9 L246 756.4 L248.2 756.4 L250.5 755 L252.8 754.6 L255 756.3 L257.3 754.8 L259.5 755.3 L261.8 755.5 L264.1 754.9 L266.3 756.3 L268.6 756.2 L270.9 757.6 L273.1 756.6 L275.4 757 L277.6 756.6 L279.9 757.1 L282.2 756.5 L284.4 756 L286.7 758.3 L289 758.3 L291.2 757.8 L293.5 757.4 L295.7 756.2 L298 755.9 L300.3 756.1 L302.5 755.4 L304.8 756.8 L307.7 756.7 L310.6 753.9 L313.5 753.3 L315.8 754.4 L318.2 753 L320.5 754.8 L322.8 754.5 L325.2 751.9 L327.5 752.6 L329.8 754.9 L332.2 753.6 L334.5 755.3 L336.8 753.6 L339.2 752.6 L341.5 754.6 L343.8 755.2 L346.2 753.7 L348.5 754.6 L350.9 753.6 L353.3 755 L355.6 758 L358 758.4 L360.4 757.6 L362.8 759.5 L365.2 760.5 L367.6 761.9 L369.9 765.8 L372.3 765.3 L374.7 767.7 L377 769.3 L379.4 770.3 L381.7 771 L384.1 774.3 L386.4 774 L388.8 777.3 L391.1 777.2 L393.5 779.8 L395.8 780.7 L398.2 782.4 L400.5 786.1 L402.9 787 L405.2 787.3 L407.5 787.9 L409.9 791.1 L412.2 790.3 L414.5 792.3 L416.9 795.1 L419.2 795.8 L421.5 795.3 L423.9 799.4 L426.2 798.1 L428.5 799.2 L430.9 801.7 L433.2 801 L435.5 801.5 L437.9 801.1 L440.2 802.6 L442.5 801.1 L444.9 802.2 L447.2 800.3 L449.6 800.4 L451.9 798.5 L454.3 797.4 L456.6 797.5 L459 794.5 L461.3 793.2 L463.7 792.6 L466 788.9 L468.4 787.4 L470.7 787.3 L473 787.5 L475.4 786 L477.7 783 L480 781.6 L482.4 782.1 L484.7 781.6 L487 778 L489.4 779.2 L491.7 777.9 L494 775.9 L496.4 774.2 L498.7 772.2 L501 771 L503.4 773 L505.7 770.7 L508 769.1 L510.3 769.8 L512.6 767.6 L514.9 768.7 L517.2 767.2 L519.5 765.6 L521.8 764.5 L524.1 765.6 L526.4 762.9 L528.6 762.7 L530.9 763.2 L533.2 763.6 L535.5 762.2 L537.8 760.6 L540.1 762.1 L542.4 759.4 L544.7 758.3 L547 758.7 L549.3 759 L551.6 758.4 L553.9 756.8 L556.2 756.7 L558.5 756.9 L560.8 756.9 L563.1 756.5 L565.4 756.1 L567.7 755.7 L570 755.4 L572.3 755 L574.6 754.7 L576.9 754.4 L579.2 754.1 L581.5 753.9 L583.8 753.7 L586.1 753.5 L588.4 753.4 L590.7 753.3 L593 753.3 L595.5 753.3 L597.9 753.3 L600.4 753.3 L602.9 753.3 L605.3 753.3 L607.8 753.3 L610.2 753.3 L612.7 753.3 L616 759 L619.2 764.6 L621.9 762.8 L624.7 758.9 L627.4 755.1 L630.1 753.3 L632.8 753.6 L635.5 754.3 L638.3 755.4 L641 756.8 L643.9 761.7 L646.9 769.9 L649.8 776.4 L653 779.2 L656.3 783 L659.1 831.3 L662 876.9 L664.6 851 L667.2 817.9 L670.1 804.2 L673.1 794.6 L676 787.3 L678.9 780.3 L681.8 774.5 L684.7 772 L688 811.4 L691.3 850.7 L694.5 821.5 L697.8 787.3 L700.4 780.1 L703 774.5 L705.7 770.4 L708.3 767.5 L710.9 765.5 L713.2 764.2 L715.6 762.9 L717.9 761.8 L720.2 760.7 L722.6 759.8 L724.9 758.9 L727.2 758.1 L729.6 757.3 L731.9 756.7 L734.2 756.2 L736.6 755.7 L738.9 755.3 L741.2 755 L743.6 754.8 L745.9 754.6 L748.2 754.5 L750.4 754.4 L752.7 754.3 L754.9 754.2 L757.2 754.1 L759.4 754 L761.7 754 L763.9 753.9 L766.2 753.8 L768.4 753.7 L770.7 753.7 L773 753.6 L775.2 753.6 L777.5 753.5 L779.7 753.5 L782 753.4 L784.2 753.4 L786.5 753.4 L788.7 753.4 L791 753.3 L793.2 753.3 L795.5 753.3 L797.7 753.3 L800 753.3 L802.2 753.3 L804.4 753.3 L806.6 753.3 L808.8 753.3 L811 753.3 L813.2 753.3 L815.5 753.3 L817.7 753.3 L819.9 753.3 L822.1 753.3 L824.3 753.3 L826.5 753.3 L828.7 753.3 L830.9 753.3 L833.1 753.3 L835.3 753.3 L837.5 753.4 L839.7 753.4 L841.9 753.4 L844.2 753.4 L846.4 753.4 L848.6 753.4 L850.8 753.4 L853 753.4 L855.2 753.4 L857.4 753.4 L859.6 753.4 L861.8 753.4 L864 753.4 L866.2 753.5 L868.4 753.5 L870.6 753.5 L872.9 753.5 L875.1 753.5 L877.3 753.5 L879.5 753.5 L881.7 753.5 L883.9 753.5 L886.1 753.6 L888.3 753.6 L890.5 753.6 L892.7 753.6 L894.9 753.6 L897.1 753.6 L899.4 753.6 L901.6 753.6 L903.8 753.7 L906 753.7 L908.2 753.7 L910.4 753.7 L912.6 753.7 L914.8 753.7 L917 753.7 L919.2 753.8 L921.4 753.8 L923.6 753.8 L925.8 753.8 L928.1 753.8 L930.3 753.8 L932.5 753.8 L934.7 753.9 L936.9 753.9 L939.1 753.9 L941.3 753.9 L943.5 753.9 L945.7 753.9 L947.9 753.9 L950.1 754 L952.3 754 L954.5 754 L956.8 754 L959 754 L961.2 754 L963.4 754.1 L965.6 754.1 L967.8 754.1 L970 754.1 L972.2 754.1 L974.4 754.1 L976.6 754.1 L978.8 754.2 L981 754.2 L983.2 754.2 L985.5 754.2 L987.7 754.2 L989.9 754.2 L992.1 754.3 L994.3 754.3 L996.5 754.3 L998.7 754.3 L1000.9 754.3 L1003.1 754.3 L1005.3 754.3 L1007.5 754.4 L1009.7 754.4 L1011.9 754.4 L1014.2 754.4 L1016.4 754.4 L1018.6 754.4 L1020.8 754.4 L1023 754.5 L1025.2 754.5 L1027.4 754.5 L1029.6 754.5 L1031.8 754.5 L1034 754.5 L1036.2 754.5 L1038.4 754.6 L1040.6 754.6 L1042.9 754.6 L1045.1 754.6 L1047.3 754.6 L1049.5 754.6 L1051.7 754.6 L1053.9 754.6 L1056.1 754.7 L1058.3 754.7 L1060.5 754.7 L1062.7 754.7 L1064.9 754.7 L1067.1 754.7 L1069.4 754.7 L1071.6 754.7 L1073.8 754.7 L1076 754.8 L1078.2 754.8 L1080.4 754.8 L1082.6 754.8 L1084.8 754.8 L1087 754.8 L1089.2 754.8 L1091.4 754.8 L1093.6 754.8 L1095.8 754.8 L1098.1 754.8 L1100.3 754.8 L1102.5 754.8 L1104.7 754.9 L1106.9 754.9 L1109.1 754.9 L1111.3 754.9 L1113.5 754.9 L1115.7 754.9 L1117.9 754.9 L1120.1 754.9 L1122.3 754.9 L1124.5 754.9 L1126.8 754.9 L1129 754.9 L1131.2 754.9 L1133.4 754.9 L1135.6 754.9 L1137.8 754.9 L1140 754.9 L1142.3 755 L1144.6 754.1 L1146.9 754.5 L1149.2 755.4 L1151.6 755.4 L1153.9 754.6 L1156.2 754.5 L1158.5 754.1 L1160.8 753 L1163.1 752.6 L1165.4 752.4 L1167.7 754.1 L1170.1 753.5 L1172.4 753.9 L1174.7 751.9 L1177 753.1 L1179.3 752.8 L1181.8 753.2 L1184.4 754.7 L1186.9 755.4 L1189.5 758.4 L1192 758.2 L1194.6 760.4 L1197.1 761.8 L1199.7 763.6 L1202.2 765.3 L1204.8 766.2 L1207.4 767 L1209.9 766.9 L1212.6 766.6 L1215.3 764.8 L1218.1 761.6 L1220.8 761 L1223.4 761.9 L1226 763.5 L1228.7 764.9 L1231.3 765.2 L1233.9 765.9 L1236.5 766.4 L1239 766.2 L1241.6 765 L1244.1 764.5 L1246.7 763.2 L1249.2 762.6 L1251.8 761.2 L1254.4 758.7 L1257.1 755 L1259.7 754 L1262.3 752.8 L1265.2 752.8 L1268 753 L1270.5 800.8 L1273.2 803 L1276.5 779 L1278.6 809.5 L1280.8 812 L1283 812.8 L1285.2 785.5 L1288 776.7 L1290.7 773.5 L1293.4 775.2 L1296.1 776.8 L1298.8 770.2 L1301.6 763.7 L1303.8 770.3 L1306 774.6 L1309.2 771.2 L1312.5 765.9 L1315.2 769.1 L1318 771.3 L1320.7 767.9 L1323.4 763.7 L1326 761.9 L1328.6 759.4 L1331.3 757.3 L1333.9 756.8 L1336.5 754.9 L1339 753.1 L1341.5 753.9 L1344 751.4 L1346.5 752.1 L1349 751.4 L1351.5 750.5 L1354 751 L1356.5 751.6 L1359 751.3 L1361.5 752 L1363.9 753.2 L1366.4 752.3 L1368.9 752.5 L1371.4 754.5 L1374.7 757.3 L1378 760.4 L1380.9 760 L1383.8 757.2 L1386.7 757.1 L1389.2 756.7 L1391.8 759.5 L1394.3 760.4 L1396.9 761.5 L1399.5 764.3 L1402 764.8 L1404.2 765.6 L1406.4 767.9 L1408.6 768.1 L1410.8 769.6 L1413 770.2 L1417.3 768.5 L1420 770.5 L1422.8 773.6 L1425.5 776.4 L1428.2 776.8 L1430.8 776.3 L1433.3 776.3 L1435.8 775.1 L1438.4 774 L1441 774.4 L1443.5 774.2 L1445.8 775.2 L1448 775.9 L1450.3 776.5 L1452.5 778.1 L1454.8 777.5 L1457.1 778.1 L1459.3 779.4 L1461.6 779.8 L1463.8 779 L1466.1 778.2 L1468.3 777.6 L1470.6 777 L1472.8 775.4 L1475.1 774.2 L1477.4 772.6 L1479.7 772.6 L1481.9 771.4 L1484.2 768.5 L1486.4 765.2 L1488.7 760.4 L1490.9 759.5 L1494.3 776.4 L1497.2 793.3 L1500 778.7 L1503.3 760.6 L1505.5 765.7 L1507.8 773 L1510.1 768.9 L1512.3 757.7 L1514.6 753.8 L1518 783.2 L1520.2 779.1 L1522.5 771.9 L1524.8 767.9 L1527 763.7 L1529.3 761.7 L1531.5 760.8 L1533.8 757.5 L1536 756.6 L1538.3 756.4 L1540.5 754.6 L1542.8 755 L1545.1 755.1 L1547.3 753.1 L1549.6 752.3 L1551.8 751.7 L1554.1 752.7 L1556.4 753.2 L1558.6 753.4 L1560.9 754.5 L1563.1 755.1 L1565.4 755 L1567.7 755.7 L1569.9 755.9 L1572.2 754.9 L1574.4 753.5 L1576.7 753.8 L1579 752.7 L1581.2 752 L1583.5 752.9 L1585.7 753.3 L1588 752.7 L1591 753.8 L1592.5 780.9 L1594.8 775.6 L1597 771.9 L1600.4 790 L1603.2 776.8 L1606 764 L1608.3 762.6 L1610.5 762.7 L1612.8 761.6 L1615 761.4 L1617.3 761.4 L1619.5 760.4 L1621.8 760.6 L1624 761.4 L1626.3 761.8 L1628.5 760.1 L1630.8 762.4 L1633 762.3 L1635.3 761.2 L1637.5 762.3 L1639.8 763 L1642 763.8 L1644.3 762.9 L1646.6 762.5 L1648.8 762.7 L1651.1 763 L1653.3 762.3 L1655.6 762.1 L1657.9 760.3 L1660.1 760.2 L1662.4 758.6 L1664.6 759.3 L1666.9 758.4 L1669.2 758.9 L1671.4 758.1 L1673.7 758 L1675.9 756.5 L1678.2 757.8 L1680.5 757.7 L1682.7 757.4 L1685 756.1 L1687.2 756.5 L1689.5 755.1 L1691.8 756.3 L1694 756.1 L1696.3 754.7 L1698.5 754 L1700.8 755 L1703 755.3 L1705.3 756.6 L1707.5 758.4 L1709.8 759.1 L1712 759.1 L1714.3 760.6 L1716.5 760.6 L1718.8 757.3 L1721 757.5 L1723.3 756.1 L1726 756.1 L1728.7 758.3 L1731.3 761.6 L1734 762.9" fill="none" stroke="#FF0000" stroke-width="7.4" stroke-linejoin="round" stroke-linecap="round"/>
<path d="M200 911.8 L202.2 911.1 L204.4 912.3 L206.7 912.3 L208.9 912.7 L211.1 910.8 L213.3 910.9 L215.5 910.7 L217.8 910.9 L220 912.3 L222.2 910.6 L224.4 911.7 L226.6 910.8 L228.9 911 L231.1 911.4 L233.3 912.5 L235.5 911.8 L237.7 910.1 L240 910.8 L242.2 910.5 L244.4 912.5 L246.6 912.3 L248.8 912.2 L251.1 912.3 L253.3 912 L255.5 912.6 L257.7 912.1 L259.9 910.6 L262.2 912.2 L264.4 911.2 L266.6 911.9 L268.8 911.4 L271.1 911 L273.3 910.8 L275.5 911 L277.7 910.6 L279.9 910 L282.2 912 L284.4 911.9 L286.6 912.4 L288.8 911.6 L291 911.2 L293.3 911.7 L295.5 910 L297.7 911.5 L299.9 910.8 L302.1 910.1 L304.4 910.1 L306.6 911 L308.8 910.3 L311 910.8 L313.2 911.2 L315.5 910.6 L317.7 909.9 L319.9 910.9 L322.1 910.2 L324.3 910.2 L326.6 910 L328.8 910.5 L331 910.9 L333.3 909.7 L335.6 911.4 L337.9 912.3 L340.2 910.9 L342.5 911.9 L344.8 912.7 L347.1 910.4 L349.4 910.9 L351.7 913 L354 913.3 L356.3 913 L358.6 911.9 L360.9 912.9 L363.2 914.4 L365.5 914.8 L367.8 914.8 L370.1 913.4 L372.4 915.5 L374.7 914.8 L377 914.7 L379.2 916 L381.5 914.7 L383.7 917.5 L386 916.8 L388.3 917.6 L390.5 916.6 L392.8 918.3 L395 918.7 L397.3 919.2 L399.5 919 L401.8 920.6 L404.1 920 L406.3 920.4 L408.6 920.5 L410.8 922.5 L413.1 921.4 L415.4 922.2 L417.6 922.2 L419.9 924.2 L422.1 924.2 L424.4 924.5 L426.6 924.8 L428.9 925.1 L431.2 925.4 L433.4 925.5 L435.7 925.7 L437.9 925.8 L440.2 925.8 L442.5 925.7 L444.8 925.6 L447.1 925.3 L449.4 925 L451.7 924.6 L454 924.2 L456.3 923.7 L458.6 923.1 L460.9 922.5 L463.1 921.9 L465.4 921.3 L467.7 920.7 L470 920 L472.3 919.4 L474.6 918.9 L476.9 918.3 L479.2 917.8 L481.5 917.4 L483.8 917 L486.1 916.6 L488.4 916.3 L490.7 915.9 L493 915.5 L495.3 915.2 L497.6 914.8 L499.9 914.4 L502.2 914.1 L504.5 913.7 L506.8 913.4 L509.1 913.1 L511.4 912.8 L513.7 912.6 L516 912.4 L518.3 912.2 L520.6 912 L522.9 911.9 L525.2 911.8 L527.5 911.8 L529.7 911.8 L532 911.8 L534.2 911.8 L536.5 911.8 L538.7 911.8 L541 911.8 L543.2 911.8 L545.4 911.8 L547.7 911.8 L549.9 911.8 L552.2 911.8 L554.4 911.8 L556.6 911.8 L558.9 911.8 L561.1 911.8 L563.4 911.8 L565.6 911.8 L567.9 911.8 L570.1 911.8 L572.3 911.8 L574.6 911.8 L576.8 911.8 L579.1 911.8 L581.3 911.8 L583.6 911.8 L585.8 911.8 L588 911.8 L590.3 911.8 L592.5 911.8 L594.8 911.8 L597 911.8 L599.2 911.8 L601.5 911.8 L603.7 911.8 L606 911.8 L608.2 911.8 L610.5 911.8 L612.7 911.8 L615.3 912.1 L617.9 913.1 L620.6 914.5 L623.2 916.3 L625.8 918.3 L628.5 922.6 L631.2 929.2 L634 935.3 L636.7 938 L639.6 938 L642.5 938 L645.4 938 L648.3 938.9 L651.2 941.2 L654.1 944.5 L656.7 954.8 L659.4 970.5 L662 978.6 L664.5 970.3 L666.9 954 L669.4 942.4 L671.6 938.6 L673.8 935.8 L676 933.6 L678.2 931.4 L680.7 928.6 L683.1 926 L685.6 924.9 L688.5 942.4 L691.3 959.8 L694.5 942.4 L697.8 922.7 L700.4 919.2 L703 916.5 L705.7 914.5 L708.3 913.2 L710.9 912.7 L713.1 912.6 L715.4 912.5 L717.6 912.4 L719.8 912.3 L722 912.2 L724.3 912.1 L726.5 912 L728.7 911.9 L730.9 911.8 L733.2 911.8 L735.4 911.7 L737.6 911.6 L739.9 911.6 L742.1 911.5 L744.3 911.5 L746.5 911.4 L748.8 911.4 L751 911.3 L753.2 911.3 L755.5 911.2 L757.7 911.2 L759.9 911.2 L762.1 911.1 L764.4 911.1 L766.6 911.1 L768.8 911 L771 911 L773.3 911 L775.5 911 L777.7 911 L780 911 L782.2 910.9 L784.4 910.9 L786.6 910.9 L788.9 910.9 L791.1 910.9 L793.3 910.9 L795.5 910.9 L797.8 910.9 L800 910.9 L802.2 910.9 L804.4 910.9 L806.6 910.9 L808.8 910.9 L811 910.9 L813.2 910.9 L815.5 910.9 L817.7 910.9 L819.9 910.9 L822.1 910.9 L824.3 910.9 L826.5 910.9 L828.7 910.9 L830.9 910.9 L833.1 910.9 L835.3 910.9 L837.5 910.9 L839.7 910.9 L841.9 911 L844.2 911 L846.4 911 L848.6 911 L850.8 911 L853 911 L855.2 911 L857.4 911 L859.6 911 L861.8 911 L864 911 L866.2 911 L868.4 911 L870.6 911 L872.9 911 L875.1 911 L877.3 911.1 L879.5 911.1 L881.7 911.1 L883.9 911.1 L886.1 911.1 L888.3 911.1 L890.5 911.1 L892.7 911.1 L894.9 911.1 L897.1 911.1 L899.4 911.1 L901.6 911.2 L903.8 911.2 L906 911.2 L908.2 911.2 L910.4 911.2 L912.6 911.2 L914.8 911.2 L917 911.2 L919.2 911.2 L921.4 911.2 L923.6 911.3 L925.8 911.3 L928.1 911.3 L930.3 911.3 L932.5 911.3 L934.7 911.3 L936.9 911.3 L939.1 911.3 L941.3 911.3 L943.5 911.4 L945.7 911.4 L947.9 911.4 L950.1 911.4 L952.3 911.4 L954.5 911.4 L956.8 911.4 L959 911.4 L961.2 911.5 L963.4 911.5 L965.6 911.5 L967.8 911.5 L970 911.5 L972.2 911.5 L974.4 911.5 L976.6 911.5 L978.8 911.5 L981 911.6 L983.2 911.6 L985.5 911.6 L987.7 911.6 L989.9 911.6 L992.1 911.6 L994.3 911.6 L996.5 911.6 L998.7 911.7 L1000.9 911.8 L1003.1 911.8 L1005.3 910.8 L1007.5 911.6 L1009.7 911.4 L1011.9 910.9 L1014.2 910.7 L1016.4 912.7 L1018.6 911 L1020.8 911.4 L1023 911.3 L1025.2 912 L1027.4 910.9 L1029.6 911.7 L1031.8 911.5 L1034 912.5 L1036.2 910.8 L1038.4 911.5 L1040.6 911.8 L1042.9 912.8 L1045.1 911.9 L1047.3 911.8 L1049.5 912.2 L1051.7 911.5 L1053.9 911 L1056.1 911.9 L1058.3 912.7 L1060.5 912.4 L1062.7 911.5 L1064.9 912.3 L1067.1 912.7 L1069.4 911.5 L1071.6 912.1 L1073.8 911.7 L1076 911.5 L1078.2 911.6 L1080.4 911.4 L1082.6 911.7 L1084.8 911.1 L1087 911.8 L1089.2 911.2 L1091.4 912.5 L1093.6 912.2 L1095.8 911.1 L1098.1 912.6 L1100.3 911.4 L1102.5 912 L1104.7 912.2 L1106.9 911.7 L1109.1 911.7 L1111.3 911.9 L1113.5 911.4 L1115.7 912.8 L1117.9 911.3 L1120.1 912.7 L1122.3 911.5 L1124.5 911.7 L1126.8 911.9 L1129 911.2 L1131.2 911.4 L1133.4 911.8 L1135.6 912 L1137.8 912.9 L1140 912.1 L1142.3 913.1 L1144.6 911.1 L1146.9 912 L1149.2 911.1 L1151.5 912.3 L1153.8 911.2 L1156.1 912.2 L1158.4 911.4 L1160.7 910.4 L1163 910 L1165.3 910.3 L1167.6 911.4 L1169.9 909.8 L1172.2 910.3 L1174.5 910 L1176.8 909.8 L1179.1 910.7 L1181.4 909.4 L1183.7 910 L1186 910.6 L1188.2 911 L1190.5 912.2 L1192.8 912.3 L1195.1 914.1 L1197.3 914.2 L1199.6 915.6 L1201.9 916.7 L1204.2 918 L1206.5 918.9 L1208.7 917.8 L1211 918.7 L1213.3 917.7 L1215.7 917.8 L1218 917.4 L1220.3 915.8 L1222.6 914.3 L1225 914.7 L1227.3 913.2 L1229.6 912.4 L1232 911.7 L1234.3 911.3 L1236.6 910.9 L1239 912 L1241.3 910.5 L1243.6 911.5 L1246 911.5 L1248.3 911.6 L1250.6 911 L1253 910.1 L1255.3 910.4 L1257.6 910.7 L1260 910.5 L1262.3 910 L1265.5 911.6 L1268.8 916.5 L1272.1 947 L1275 958.5 L1278 963.4 L1281 962.2 L1284.1 958 L1286.3 931.8 L1288.5 921.7 L1290.7 917.6 L1293.4 920.3 L1296.1 923 L1298.8 916.5 L1301.6 910 L1304.8 911.1 L1308.1 913.2 L1310.3 914.6 L1312.5 916.4 L1314.7 918.7 L1318 923.8 L1321.2 934 L1324.5 982 L1327.8 1069.3 L1329.5 1091.2 L1333.2 1047.5 L1335.4 1017 L1339.8 1019.1 L1343.1 971 L1347.4 938.3 L1350.3 924.8 L1353.3 914.2 L1356.2 910 L1359.1 910.3 L1362 911 L1364.9 912.1 L1367.8 914.7 L1370.7 919.9 L1373.6 927.4 L1375.8 938.7 L1378 956 L1380.7 992.7 L1383.3 1021.3 L1386.5 1025.7 L1388.7 1064.8 L1392 1108.3 L1396.3 1128 L1399 1125.7 L1401.7 1119.1 L1405 1075.7 L1407.2 999.6 L1409.9 972.4 L1413.2 964.8 L1417 977.8 L1420.2 1037.6 L1423.5 1030 L1425.7 977.8 L1427.8 945.2 L1430 933.1 L1432.2 926.7 L1434.9 922.2 L1437.6 920.2 L1440.1 921 L1442.7 923.3 L1445.2 926.7 L1449.6 945.2 L1451.7 988.7 L1453.9 1043 L1456.1 1073.5 L1459.3 1053.9 L1462.6 977.8 L1464.8 962.6 L1467 934.3 L1469.7 927.9 L1472.4 925.7 L1475.1 925.7 L1477.8 925.7 L1480.5 921.4 L1483.3 915.9 L1486.5 913.6 L1489.8 912.6 L1492.5 920.2 L1495.2 927.8 L1499.6 912.6 L1501.9 914.9 L1504.3 920.1 L1506.7 925.3 L1509 927.6 L1511.8 922 L1514.6 916.3 L1518.4 927.6 L1521.6 924 L1524.8 918.6 L1527 915.7 L1529.3 912.8 L1531.5 910.5 L1533.8 909.5 L1536 909.4 L1538.3 909.3 L1540.5 909.2 L1542.8 909.1 L1545 909.1 L1547.3 909.1 L1550.2 911.8 L1553 914.5 L1555.6 913.3 L1558.3 911.2 L1560.9 910 L1563.2 911.9 L1565.4 916.3 L1567.7 929.4 L1569.9 940 L1572.2 927.7 L1574.4 914 L1576.7 911.6 L1578.9 910.7 L1581.2 923 L1583.5 916.5 L1585.7 910 L1588.2 930.1 L1590.6 950.1 L1594.7 918.6 L1597 920.1 L1599.2 922.7 L1601.5 924.2 L1603.7 914 L1606 911.8 L1608.2 910.4 L1610.5 910 L1612.8 910.1 L1615 910.4 L1617.2 911 L1619.5 911.8 L1622.3 922.3 L1625.2 934.4 L1628.6 937.7 L1631.9 920.8 L1634.2 924.7 L1636.5 934.4 L1639.8 979.5 L1642.8 1031.4 L1646.6 1002 L1647.7 977.2 L1650 978.4 L1652.2 979.5 L1655.6 929.8 L1657.8 930.9 L1660.1 934.4 L1662.8 1005.4 L1665.8 945.6 L1669.2 918.6 L1671.4 914.9 L1673.7 912.6 L1675.9 911.8 L1678.2 912.8 L1680.4 915.9 L1682.7 920.8 L1685 952.1 L1687.2 980.6 L1689.5 956.4 L1691.7 927.6 L1694 919.6 L1696.2 914.3 L1698.5 911.8 L1700.8 910.8 L1703 910.1 L1705.3 909.5 L1707.5 909.2 L1709.8 909.1 L1712 909.1 L1714.3 909.1 L1716.5 909.1 L1718.8 909.1 L1721 909.1 L1723.3 909.1 L1725.5 909.1 L1727.8 909.1 L1730.9 913.5 L1734 920.8" fill="none" stroke="#000000" stroke-width="7.4" stroke-linejoin="round" stroke-linecap="round"/>
</g>
<line x1="179" y1="284.5" x2="200.5" y2="284.5" stroke="#000" stroke-width="3.8" stroke-linecap="round"/>
<line x1="179" y1="597.5" x2="200.5" y2="597.5" stroke="#000" stroke-width="3.8" stroke-linecap="round"/>
<line x1="179" y1="910.6" x2="200.5" y2="910.6" stroke="#000" stroke-width="3.8" stroke-linecap="round"/>
<line x1="190" y1="128.4" x2="200.5" y2="128.4" stroke="#000" stroke-width="3.8" stroke-linecap="round"/>
<line x1="190" y1="441" x2="200.5" y2="441" stroke="#000" stroke-width="3.8" stroke-linecap="round"/>
<line x1="190" y1="754" x2="200.5" y2="754" stroke="#000" stroke-width="3.8" stroke-linecap="round"/>
<line x1="190" y1="1067" x2="200.5" y2="1067" stroke="#000" stroke-width="3.8" stroke-linecap="round"/>
<line x1="200.5" y1="1161" x2="200.5" y2="1181.5" stroke="#000" stroke-width="3.8" stroke-linecap="round"/>
<line x1="627.1" y1="1161" x2="627.1" y2="1181.5" stroke="#000" stroke-width="3.8" stroke-linecap="round"/>
<line x1="1053.7" y1="1161" x2="1053.7" y2="1181.5" stroke="#000" stroke-width="3.8" stroke-linecap="round"/>
<line x1="1480.2" y1="1161" x2="1480.2" y2="1181.5" stroke="#000" stroke-width="3.8" stroke-linecap="round"/>
<line x1="413.8" y1="1161" x2="413.8" y2="1171.5" stroke="#000" stroke-width="3.8" stroke-linecap="round"/>
<line x1="840.4" y1="1161" x2="840.4" y2="1171.5" stroke="#000" stroke-width="3.8" stroke-linecap="round"/>
<line x1="1267" y1="1161" x2="1267" y2="1171.5" stroke="#000" stroke-width="3.8" stroke-linecap="round"/>
<line x1="1693.5" y1="1161" x2="1693.5" y2="1171.5" stroke="#000" stroke-width="3.8" stroke-linecap="round"/>
<text x="199.5" y="1262.5" font-size="86.5" font-family='"Liberation Sans", Arial, sans-serif' text-anchor="middle" transform="matrix(1 0 0 1.02 0 -25.3)">4000</text>
<text x="626.1" y="1262.5" font-size="86.5" font-family='"Liberation Sans", Arial, sans-serif' text-anchor="middle" transform="matrix(1 0 0 1.02 0 -25.3)">3000</text>
<text x="1052.7" y="1262.5" font-size="86.5" font-family='"Liberation Sans", Arial, sans-serif' text-anchor="middle" transform="matrix(1 0 0 1.02 0 -25.3)">2000</text>
<text x="1479.2" y="1262.5" font-size="86.5" font-family='"Liberation Sans", Arial, sans-serif' text-anchor="middle" transform="matrix(1 0 0 1.02 0 -25.3)">1000</text>
<text x="472.2" y="1396" font-size="115.5" font-family='"Liberation Sans", Arial, sans-serif' transform="matrix(1 0 0 1.04 0 -55.8)" textLength="937" lengthAdjust="spacingAndGlyphs">Wave number (cm</text>
<text x="1407.8 1430.4" y="1331" font-size="65" font-family='"Liberation Sans", Arial, sans-serif' transform="matrix(1 0 0 1.04 0 -53.2)">-1</text>
<text x="1477.5" y="1396" font-size="115.5" font-family='"Liberation Sans", Arial, sans-serif' transform="matrix(1 0 0 1.04 0 -55.8)">)</text>
<text x="0" y="0" font-size="115" font-family='"Liberation Sans", Arial, sans-serif' text-anchor="middle" transform="translate(117 544.6) rotate(-90) scale(1 1.04)">Intensity (a.u.)</text>
<text x="218.1" y="320" font-size="118" font-family='Carlito, Calibri, "Liberation Sans", sans-serif' textLength="128.1" lengthAdjust="spacingAndGlyphs">(a)</text>
<text x="911" y="111" font-size="62" font-family='"Liberation Sans", Arial, sans-serif' transform="matrix(1 0 0 1.04 0 -4.4)">TRG</text>
<text x="880.8" y="240.6" font-size="62" font-family='"Liberation Sans", Arial, sans-serif' transform="matrix(1 0 0 1.04 0 -9.6)">TRGS</text>
<text x="853.2" y="452.8" font-size="62" font-family='"Liberation Sans", Arial, sans-serif' transform="matrix(1 0 0 1.04 0 -18.1)">TRGSE</text>
<text x="874.8" y="817" font-size="62" font-family='"Liberation Sans", Arial, sans-serif' transform="matrix(1 0 0 1.04 0 -32.7)">TRGC</text>
<text x="847.2" y="973" font-size="62" font-family='"Liberation Sans", Arial, sans-serif' transform="matrix(1 0 0 1.04 0 -38.9)">TRGCE</text>
<rect x="196.9" y="1470.9" width="1536.6" height="769.1" fill="none" stroke="#000" stroke-width="3.6"/>
<g clip-path="url(#cb)">
<path d="M197 1507.2 C203.2 1507.4 209.3 1507.5 215.5 1507.9 C226.4 1508.5 237.4 1511.3 248.3 1513.3 C259.2 1515.3 270.1 1517.2 281 1519.9 C291.9 1522.6 302.9 1526.7 313.8 1530.8 C324.7 1534.9 335.6 1540.3 346.5 1545 C357.4 1549.7 368.4 1554.7 379.3 1559.2 C390.2 1563.7 401.1 1567.5 412 1572.3 C421.3 1576.4 430.7 1581 440 1586 C454.6 1593.8 469.1 1602.9 483.7 1612 C498.2 1621 512.8 1631.1 527.3 1640.4 C539 1647.8 550.6 1656.5 562.3 1662.3 C571 1666.6 579.8 1670.6 588.5 1673.2 C591.4 1674.1 594.3 1675.4 597.2 1675.4 C605.9 1675.4 614.7 1672.4 623.4 1671 C635 1669.2 646.7 1665.8 658.3 1665.8 C667 1665.8 675.8 1668 684.5 1670.1 C696.2 1672.9 707.8 1681.8 719.5 1688.5 C731.1 1695.1 742.8 1704 754.4 1710.3 C766 1716.6 777.7 1724 789.3 1726.9 C799.5 1729.4 809.7 1732.1 819.9 1732.1 C827.2 1732.1 834.4 1731.5 841.7 1730.8 C853.4 1729.7 865 1723.3 876.7 1719 C891.2 1713.7 905.8 1709.2 920.3 1701.6 C934.9 1694 949.4 1679.3 964 1668.8 C978.6 1658.3 993.1 1646.2 1007.7 1638.3 C1023.3 1629.8 1039 1623 1054.6 1617.4 C1072.8 1610.8 1091 1605.4 1109.2 1601 C1127.4 1596.6 1145.6 1592.4 1163.8 1590 C1182 1587.6 1200.1 1586.6 1218.3 1584.6 C1236.5 1582.6 1254.8 1580 1273 1578 C1291.2 1576 1309.3 1574 1327.5 1572.6 C1345.7 1571.2 1363.8 1570.5 1382 1569.3 C1400.2 1568.1 1418.5 1566.2 1436.7 1565.5 C1449.4 1565 1462.2 1564.4 1474.9 1564.4 C1486.7 1564.4 1498.6 1569.3 1510.4 1569.3 C1522.2 1569.3 1534.1 1566.7 1545.9 1565.5 C1564.1 1563.6 1582.2 1561.5 1600.4 1560 C1618.6 1558.5 1636.8 1557.2 1655 1556.2 C1665.9 1555.6 1676.9 1554.6 1687.8 1554.6 C1695.1 1554.6 1702.3 1556.3 1709.6 1557.9 C1717.4 1559.6 1725.2 1563.7 1733 1566.6" fill="none" stroke="#FF00FF" stroke-width="7.0" stroke-linejoin="round" stroke-linecap="round"/>
<path d="M197.6 1789 C205.3 1788.7 212.9 1788.4 220.6 1788 C232.5 1787.4 244.3 1785.5 256.2 1785.5 C268.1 1785.5 280 1787.3 291.9 1789 C302.1 1790.5 312.2 1793.7 322.4 1796.7 C334.3 1800.2 346.2 1805.3 358.1 1809.4 C370 1813.5 381.9 1816.7 393.8 1821.1 C405.7 1825.5 417.5 1830.6 429.4 1836.4 C441.3 1842.2 453.2 1849.9 465.1 1856.8 C475.3 1862.7 485.5 1868.7 495.7 1874.6 C507.6 1881.5 519.4 1888.2 531.3 1895 C543.2 1901.8 555.1 1908.1 567 1915.4 C577.2 1921.7 587.3 1927.5 597.5 1935.8 C602.6 1940 607.7 1945.5 612.8 1951 C621.3 1960.2 629.8 1972.7 638.3 1981.6 C648.5 1992.2 658.7 1999.8 668.9 2009.6 C674 2014.5 679 2019.1 684.1 2024.9 C690.9 2032.7 697.7 2044 704.5 2052.9 C711.3 2061.8 718.1 2072.2 724.9 2078.4 C733.4 2086.1 741.9 2093.6 750.4 2096.2 C757.2 2098.3 763.9 2099.2 770.7 2100.3 C779.2 2101.7 787.7 2101.9 796.2 2103.9 C801.3 2105.1 806.4 2108.3 811.5 2111.5 C818.3 2115.7 825.1 2123 831.9 2129.3 C838.7 2135.6 845.5 2143.7 852.3 2149.7 C861.5 2157.9 870.8 2164.7 880 2171.6 C890.6 2179.5 901.1 2188.8 911.7 2193.8 C922.2 2198.8 932.8 2203.2 943.3 2205.2 C958.1 2208.1 972.9 2210.9 987.7 2210.9 C1002.5 2210.9 1017.2 2206.7 1032 2203.3 C1044.7 2200.4 1057.3 2196.3 1070 2190.7 C1082.7 2185.1 1095.3 2175.5 1108 2165.3 C1118.6 2156.8 1129.1 2146.9 1139.7 2133.7 C1148.1 2123.2 1156.6 2107.2 1165 2092.5 C1175.6 2074 1186.1 2051.3 1196.7 2032.3 C1207.2 2013.4 1217.8 1994 1228.3 1978.5 C1238.9 1962.9 1249.4 1948.3 1260 1937.3 C1268.4 1928.6 1276.9 1918.2 1285.3 1915.2 C1292.2 1912.8 1299.1 1910.5 1306 1910.5 C1313.9 1910.5 1321.8 1916.3 1329.7 1921.5 C1338.1 1927 1346.6 1938.4 1355 1950 C1363.4 1961.6 1371.9 1982 1380.3 1994.3 C1388.8 2006.6 1397.2 2020.8 1405.7 2026 C1416.2 2032.5 1426.8 2038.7 1437.3 2038.7 C1445.7 2038.7 1454.2 2036 1462.6 2032.3 C1468.9 2029.5 1475.3 2017.5 1481.6 2007 C1490.1 1993 1498.5 1967.9 1507 1950 C1515.4 1932.1 1523.9 1912.3 1532.3 1899.3 C1540.7 1886.3 1549.2 1875.5 1557.6 1867.7 C1570.3 1855.9 1582.9 1847.2 1595.6 1840.4 C1610.4 1832.4 1625.2 1825.6 1640 1821.4 C1654.8 1817.2 1669.5 1812 1684.3 1812 C1690.6 1812 1697 1812 1703.3 1812 C1713.2 1812 1723.1 1818.7 1733 1822" fill="none" stroke="#008080" stroke-width="7.0" stroke-linejoin="round" stroke-linecap="round"/>
</g>
<line x1="596.2" y1="1594.6" x2="596.2" y2="2223.5" stroke="#000" stroke-width="2.7" stroke-dasharray="8 10.5" stroke-linecap="round"/>
<line x1="823.3" y1="1575" x2="823.3" y2="2210.8" stroke="#000" stroke-width="2.7" stroke-dasharray="8 10.5" stroke-linecap="round"/>
<line x1="176" y1="1595.2" x2="196.9" y2="1595.2" stroke="#000" stroke-width="3.4" stroke-linecap="round"/>
<line x1="176" y1="1884" x2="196.9" y2="1884" stroke="#000" stroke-width="3.4" stroke-linecap="round"/>
<line x1="176" y1="2175.2" x2="196.9" y2="2175.2" stroke="#000" stroke-width="3.4" stroke-linecap="round"/>
<line x1="187" y1="1740" x2="196.9" y2="1740" stroke="#000" stroke-width="3.4" stroke-linecap="round"/>
<line x1="187" y1="2030" x2="196.9" y2="2030" stroke="#000" stroke-width="3.4" stroke-linecap="round"/>
<line x1="196.9" y1="2240" x2="196.9" y2="2254.5" stroke="#000" stroke-width="3.4" stroke-linecap="round"/>
<line x1="965" y1="2240" x2="965" y2="2254.5" stroke="#000" stroke-width="3.4" stroke-linecap="round"/>
<line x1="1733.5" y1="2240" x2="1733.5" y2="2254.5" stroke="#000" stroke-width="3.4" stroke-linecap="round"/>
<line x1="581.2" y1="2240" x2="581.2" y2="2247.5" stroke="#000" stroke-width="3.4" stroke-linecap="round"/>
<line x1="1349.9" y1="2240" x2="1349.9" y2="2247.5" stroke="#000" stroke-width="3.4" stroke-linecap="round"/>
<text x="100 148.4 196.8 245.2" y="2311" font-size="59" font-family='"Liberation Sans", Arial, sans-serif' transform="matrix(1 0 0 1.04 0 -92.4)">1300</text>
<text x="868.5 916.9 965.3 1013.7" y="2311" font-size="59" font-family='"Liberation Sans", Arial, sans-serif' transform="matrix(1 0 0 1.04 0 -92.4)">1200</text>
<text x="1643 1691.4 1739.8 1788.2" y="2311" font-size="59" font-family='"Liberation Sans", Arial, sans-serif' transform="matrix(1 0 0 1.04 0 -92.4)">1100</text>
<text x="509.3 615.5 681 739.1 834.6 897.5 963 1058.3 1123 1186.5 1256 1294.2 1352.7" y="2399.5" font-size="78" font-family='"Liberation Sans", Arial, sans-serif' transform="matrix(1 0 0 1.04 0 -96)">Wavenumber(cm</text>
<text x="1448.4 1466.2" y="2356" font-size="45" font-family='"Liberation Sans", Arial, sans-serif' transform="matrix(1 0 0 1.04 0 -94.2)">-1</text>
<text x="1513.8" y="2399.5" font-size="78" font-family='"Liberation Sans", Arial, sans-serif' transform="matrix(1 0 0 1.04 0 -96)">)</text>
<text x="0" y="0" font-size="79" font-family='"Liberation Sans", Arial, sans-serif' text-anchor="middle" transform="translate(94.9 1830.1) rotate(-90) scale(1 1.04)">Intensity (a.u.)</text>
<text x="207.9" y="1677.2" font-size="109" font-family='"Liberation Sans", Arial, sans-serif' transform="matrix(1 0 0 1.01 0 -16.8)">(b)</text>
<text x="387.8 435.8 483.9 531.9" y="1723" font-size="60" font-family='"Liberation Sans", Arial, sans-serif' transform="matrix(1 0 0 1.04 0 -68.9)">1249</text>
<text x="834 882 930.1 978.1" y="1793" font-size="60" font-family='"Liberation Sans", Arial, sans-serif' transform="matrix(1 0 0 1.04 0 -71.7)">1219</text>
<text x="624 672 720.1 768.1" y="2209" font-size="59" font-family='"Liberation Sans", Arial, sans-serif' transform="matrix(1 0 0 1.04 0 -88.4)">1226</text>
<line x1="584.2" y1="1719.6" x2="593.3" y2="1695.7" stroke="#000" stroke-width="2.3" stroke-linecap="round"/>
<polygon points="599.9,1678.4 599.7,1700.3 585.5,1694.8" fill="#000"/>
<line x1="831.3" y1="1772.5" x2="824.2" y2="1755" stroke="#000" stroke-width="2.3" stroke-linecap="round"/>
<polygon points="817.3,1737.8 832,1754 817.9,1759.7" fill="#000"/>
<line x1="753.9" y1="2161.4" x2="758.9" y2="2128.3" stroke="#000" stroke-width="2.3" stroke-linecap="round"/>
<polygon points="761.6,2110 766.1,2131.4 751,2129.1" fill="#000"/>
<text x="1532.8 1575.7 1623.3 1673.4" y="1618" font-size="43.4" font-family='"Liberation Sans", Arial, sans-serif' transform="matrix(1 0 0 1.04 0 -64.7)">TRGS</text>
<text x="1480.6 1523 1570.4 1620.1 1665" y="2081" font-size="44" font-family='"Liberation Sans", Arial, sans-serif' transform="matrix(1 0 0 1.04 0 -83.2)">TRGSE</text>
<rect x="198.6" y="2468.8" width="1538.4" height="772.2" fill="none" stroke="#000" stroke-width="3.7"/>
<g clip-path="url(#cc)">
<path d="M198.7 2602.4 C206 2604.3 213.3 2608 220.6 2608 C229.3 2608 238.1 2606.6 246.8 2605.9 C255.5 2605.2 264.3 2603.7 273 2603.7 C276.6 2603.7 280.3 2606.3 283.9 2608 C291.2 2611.4 298.4 2621.1 305.7 2621.1 C315.2 2621.1 324.6 2618.3 334.1 2616.8 C342.8 2615.4 351.6 2612.4 360.3 2612.4 C367.6 2612.4 374.8 2612.4 382.1 2612.4 C393.7 2612.4 405.4 2607.2 417 2605.9 C431.6 2604.2 446.1 2602.4 460.7 2602.4 C494.2 2602.4 527.7 2602.4 561.2 2602.4 C575.7 2602.4 590.3 2606.1 604.8 2606.7 C616.5 2607.2 628.3 2607.2 640 2607.7 C643.7 2607.9 647.3 2608 651 2608.4 C657 2609 663.1 2611.1 669.1 2613.5 C674 2615.4 678.8 2621.3 683.7 2623 C686.6 2624 689.5 2625.2 692.4 2625.2 C695.6 2625.2 698.7 2623.1 701.9 2622.3 C706 2621.2 710.1 2619.4 714.2 2619.4 C718.6 2619.4 722.9 2621.2 727.3 2623 C731.5 2624.7 735.8 2629.2 740 2632.5 C743 2634.9 746 2639.1 749 2640 C752.7 2641.1 756.3 2641.1 760 2641.9 C764.2 2642.8 768.5 2644 772.7 2645.5 C779.4 2647.9 786.1 2656.4 792.8 2656.4 C796.4 2656.4 800.1 2655.9 803.7 2655.3 C808.5 2654.5 813.4 2648.8 818.2 2647.3 C822.5 2645.9 826.7 2644.4 831 2644.4 C836.4 2644.4 841.9 2645.8 847.3 2647.3 C853.4 2649 859.4 2653.7 865.5 2658.3 C870.4 2662 875.2 2667.3 880.1 2672.8 C885.6 2679 891 2685.8 896.5 2694.6 C900.7 2701.4 905 2710.7 909.2 2720.1 C914.1 2730.9 918.9 2745 923.8 2756.5 C928.6 2768 933.5 2779.1 938.3 2789.3 C943.2 2799.6 948 2811.3 952.9 2818.4 C955.9 2822.9 959 2828.3 962 2829.3 C965 2830.3 968.1 2831.1 971.1 2831.1 C974.7 2831.1 978.4 2827.4 982 2823.8 C986.8 2819 991.7 2803.2 996.5 2792.9 C1001.4 2782.6 1006.2 2770.1 1011.1 2762 C1015.9 2753.9 1020.8 2747.6 1025.6 2742 C1031.7 2734.9 1037.7 2729 1043.8 2723.8 C1051.1 2717.5 1058.4 2711.5 1065.7 2707.4 C1073 2703.3 1080.2 2700.4 1087.5 2697.6 C1097.2 2693.9 1106.9 2691.2 1116.6 2688.1 C1125.1 2685.4 1133.6 2682.6 1142.1 2680.1 C1150.6 2677.6 1159.1 2675.6 1167.6 2672.8 C1177.3 2669.7 1187 2665.2 1196.7 2661.9 C1206.4 2658.6 1216.1 2654.4 1225.8 2652.8 C1233.1 2651.6 1240.3 2650.2 1247.6 2650.2 C1256 2650.2 1264.4 2652.8 1272.8 2652.8 C1282.5 2652.8 1292.2 2643.1 1301.9 2640.8 C1309.2 2639.1 1316.4 2637.1 1323.7 2637.1 C1329.8 2637.1 1335.8 2638.8 1341.9 2640.8 C1346.7 2642.4 1351.6 2647.5 1356.4 2652.8 C1361.3 2658.1 1366.1 2666.9 1371 2676.4 C1375.9 2685.9 1380.7 2700 1385.6 2712.8 C1390.4 2725.5 1395.3 2740.7 1400.1 2752.9 C1403.7 2762.1 1407.4 2774 1411 2778.3 C1413.2 2780.9 1415.4 2783.8 1417.6 2783.8 C1420.3 2783.8 1422.9 2781 1425.6 2778.3 C1430.4 2773.5 1435.3 2756.5 1440.1 2745.6 C1445 2734.6 1449.8 2720.9 1454.7 2712.8 C1460.8 2702.7 1466.8 2695.4 1472.9 2689.2 C1480.2 2681.8 1487.4 2675.6 1494.7 2671 C1504.4 2664.8 1514.1 2660.1 1523.8 2656.4 C1533.5 2652.7 1543.3 2649.7 1553 2647.3 C1570 2643.1 1586.9 2639.8 1603.9 2637.1 C1622.1 2634.2 1640.3 2631.7 1658.5 2629.9 C1676.7 2628.1 1694.9 2626.6 1713.1 2625.5 C1720.7 2625.1 1728.4 2624.8 1736 2624.4" fill="none" stroke="#FF0000" stroke-width="7.1" stroke-linejoin="round" stroke-linecap="round"/>
<path d="M198.7 2893.6 C204.5 2894.3 210.4 2895.8 216.2 2895.8 C233.7 2895.8 251.1 2893.2 268.6 2893.2 C274.4 2893.2 280.3 2895.7 286.1 2897.1 C292.6 2898.7 299.2 2902.4 305.7 2902.4 C310.8 2902.4 315.9 2901 321 2900.6 C332.6 2899.6 344.3 2898.4 355.9 2898.4 C366.1 2898.4 376.3 2899.7 386.5 2899.7 C396.7 2899.7 406.8 2899.7 417 2899.7 C431.6 2899.7 446.1 2902.5 460.7 2904.5 C475.3 2906.5 489.8 2909.1 504.4 2912.4 C516 2915 527.7 2918.5 539.3 2922.4 C551 2926.3 562.6 2932 574.3 2936.4 C584.5 2940.2 594.6 2945.8 604.8 2947.3 C612.1 2948.4 619.4 2949.5 626.7 2949.5 C636.9 2949.5 647 2947 657.2 2946.5 C667.4 2946 677.6 2946.2 687.8 2945.6 C696.5 2945.1 705.3 2938.6 714 2938.6 C721.3 2938.6 728.6 2941.8 735.9 2943.8 C741.7 2945.4 747.5 2949.1 753.3 2949.5 C759.8 2949.9 766.2 2949.8 772.7 2950.2 C779.4 2950.6 786.1 2956.4 792.8 2956.4 C800.1 2956.4 807.3 2953.4 814.6 2952.8 C820.7 2952.3 826.7 2951.7 832.8 2951.7 C840.1 2951.7 847.3 2953.2 854.6 2954.6 C865.5 2956.7 876.5 2961.8 887.4 2967.4 C895.9 2971.7 904.3 2979.1 912.8 2985.5 C922.5 2992.9 932.3 3003.5 942 3009.2 C949.9 3013.8 957.7 3020.1 965.6 3020.1 C969.8 3020.1 974.1 3017.9 978.3 3015.7 C983.2 3013.2 988 3005.7 992.9 3000.1 C999 2993.1 1005 2982.9 1011.1 2977.2 C1018.4 2970.4 1025.6 2965.4 1032.9 2961.2 C1041.4 2956.3 1049.9 2952 1058.4 2949.2 C1068.1 2946 1077.8 2943.7 1087.5 2941.9 C1099.6 2939.6 1111.8 2937.1 1123.9 2936.4 C1133.6 2935.8 1143.3 2935.3 1153 2935.3 C1163.9 2935.3 1174.9 2937.1 1185.8 2937.1 C1191.9 2937.1 1197.9 2936.1 1204 2935.3 C1213.7 2934 1223.4 2930.5 1233.1 2929.1 C1240.3 2928 1247.4 2927.2 1254.6 2926.6 C1259.4 2926.2 1264.3 2926 1269.1 2925.5 C1277.6 2924.6 1286.1 2920.6 1294.6 2919 C1303.1 2917.4 1311.5 2915.3 1320 2915.3 C1327.3 2915.3 1334.6 2917 1341.9 2919 C1348 2920.7 1354 2925.8 1360.1 2931 C1366.2 2936.2 1372.2 2945.5 1378.3 2952.8 C1384.4 2960.1 1390.4 2969.2 1396.5 2974.6 C1400.7 2978.3 1405 2983.7 1409.2 2983.7 C1412.2 2983.7 1415.3 2983.4 1418.3 2983 C1421.9 2982.5 1425.6 2975.6 1429.2 2971 C1435.3 2963.4 1441.3 2951 1447.4 2943.7 C1453.5 2936.4 1459.5 2929.7 1465.6 2925.5 C1472.9 2920.4 1480.2 2916.7 1487.5 2913.9 C1499.6 2909.3 1511.7 2905.8 1523.8 2903.7 C1538.4 2901.1 1552.9 2899.3 1567.5 2898.2 C1585.7 2896.8 1603.9 2896 1622.1 2895.3 C1640.3 2894.6 1658.5 2894.2 1676.7 2893.8 C1696.5 2893.4 1716.2 2893.1 1736 2892.8" fill="none" stroke="#000000" stroke-width="7.1" stroke-linejoin="round" stroke-linecap="round"/>
</g>
<line x1="692.6" y1="2536.4" x2="692.6" y2="3223.6" stroke="#000" stroke-width="2.7" stroke-dasharray="8 10.5" stroke-linecap="round"/>
<line x1="177.6" y1="2546.3" x2="198.6" y2="2546.3" stroke="#000" stroke-width="3.4" stroke-linecap="round"/>
<line x1="177.6" y1="2776.7" x2="198.6" y2="2776.7" stroke="#000" stroke-width="3.4" stroke-linecap="round"/>
<line x1="177.6" y1="3007.4" x2="198.6" y2="3007.4" stroke="#000" stroke-width="3.4" stroke-linecap="round"/>
<line x1="177.6" y1="3238.1" x2="198.6" y2="3238.1" stroke="#000" stroke-width="3.4" stroke-linecap="round"/>
<line x1="189" y1="2661.4" x2="198.6" y2="2661.4" stroke="#000" stroke-width="3.4" stroke-linecap="round"/>
<line x1="189" y1="2892.4" x2="198.6" y2="2892.4" stroke="#000" stroke-width="3.4" stroke-linecap="round"/>
<line x1="189" y1="3122.4" x2="198.6" y2="3122.4" stroke="#000" stroke-width="3.4" stroke-linecap="round"/>
<line x1="686" y1="3241" x2="686" y2="3256" stroke="#000" stroke-width="3.4" stroke-linecap="round"/>
<line x1="1211.9" y1="3241" x2="1211.9" y2="3256" stroke="#000" stroke-width="3.4" stroke-linecap="round"/>
<line x1="422.9" y1="3241" x2="422.9" y2="3250" stroke="#000" stroke-width="3.4" stroke-linecap="round"/>
<line x1="948.7" y1="3241" x2="948.7" y2="3250" stroke="#000" stroke-width="3.4" stroke-linecap="round"/>
<line x1="1474.4" y1="3241" x2="1474.4" y2="3250" stroke="#000" stroke-width="3.4" stroke-linecap="round"/>
<text x="588.9 638.2 687.5 736.8" y="3313" font-size="58.5" font-family='"Liberation Sans", Arial, sans-serif' transform="matrix(1 0 0 1.04 0 -132.5)">2960</text>
<text x="1115.1 1164.1 1213.1 1262.1" y="3313" font-size="58.5" font-family='"Liberation Sans", Arial, sans-serif' transform="matrix(1 0 0 1.04 0 -132.5)">2880</text>
<text x="471 577.2 642.7 700.8 796.3 859.2 924.7 1020 1084.7 1148.2 1217.7 1255.9 1314.4" y="3403.8" font-size="78" font-family='"Liberation Sans", Arial, sans-serif' transform="matrix(1 0 0 1.04 0 -136.2)">Wavenumber(cm</text>
<text x="1410.6 1428.7" y="3360.6" font-size="45" font-family='"Liberation Sans", Arial, sans-serif' transform="matrix(1 0 0 1.04 0 -134.4)">-1</text>
<text x="1475" y="3403.8" font-size="78" font-family='"Liberation Sans", Arial, sans-serif' transform="matrix(1 0 0 1.04 0 -136.2)">)</text>
<text x="0" y="0" font-size="79" font-family='"Liberation Sans", Arial, sans-serif' text-anchor="middle" transform="translate(114.8 2819.9) rotate(-90) scale(1 1.04)">Intensity (a.u.)</text>
<text x="209.8" y="2753.3" font-size="118" font-family='Carlito, Calibri, "Liberation Sans", sans-serif' textLength="121.5" lengthAdjust="spacingAndGlyphs">(c)</text>
<text x="445.6 495.2 544.9 594.5" y="2692" font-size="57" font-family='"Liberation Sans", Arial, sans-serif' transform="matrix(1 0 0 1.04 0 -107.7)">2958</text>
<text x="457.9 507.7 557.5 607.2" y="3051" font-size="57" font-family='"Liberation Sans", Arial, sans-serif' transform="matrix(1 0 0 1.04 0 -122)">2969</text>
<line x1="646.3" y1="2672.7" x2="670.9" y2="2645.7" stroke="#000" stroke-width="2.3" stroke-linecap="round"/>
<polygon points="683.4,2632 675.2,2652.3 664,2642" fill="#000"/>
<line x1="607.9" y1="2993.2" x2="616.3" y2="2972.4" stroke="#000" stroke-width="2.3" stroke-linecap="round"/>
<polygon points="623.2,2955.2 622.6,2977.1 608.5,2971.4" fill="#000"/>
<text x="1491.9 1536 1585 1636.4" y="2612.5" font-size="44" font-family='"Liberation Sans", Arial, sans-serif' transform="matrix(1 0 0 1.04 0 -104.5)">TRGC</text>
<text x="1470 1514.1 1563.2 1614.6 1663.7" y="2875.5" font-size="44" font-family='"Liberation Sans", Arial, sans-serif' transform="matrix(1 0 0 1.04 0 -115)">TRGCE</text>
</svg></body></html>
